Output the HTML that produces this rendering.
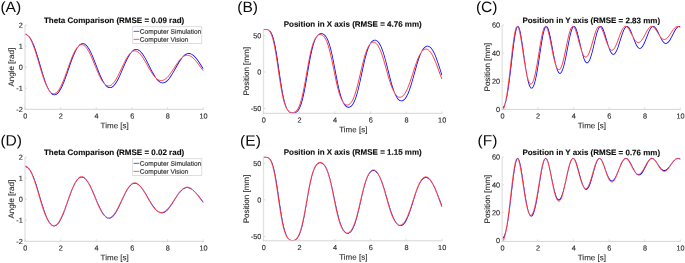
<!DOCTYPE html>
<html lang="en">
<head>
<meta charset="utf-8">
<title>Pendulum simulation vs computer vision comparison</title>
<style>
html,body{margin:0;padding:0;background:#ffffff;}
body{width:685px;height:263px;overflow:hidden;}
svg{display:block;}
text{text-rendering:geometricPrecision;}
</style>
</head>
<body>
<svg width="685" height="263" viewBox="0 0 685 263">
<rect x="0" y="0" width="685" height="263" fill="#ffffff"/>
<clipPath id="cA"><rect x="24.40" y="24.40" width="179.40" height="85.50"/></clipPath>
<g clip-path="url(#cA)">
<path d="M25.81,35.00 L26.21,35.11 L26.62,35.27 L27.03,35.48 L27.44,35.74 L27.86,36.06 L28.28,36.45 L28.57,36.75 L28.36,36.46 L27.92,35.94 L27.49,35.48 L27.06,35.08 L26.63,34.75 L26.21,34.50 L25.80,34.31 L25.39,34.19 L25.02,34.15 L24.98,34.91 L25.40,34.94Z M48.10,89.40 L48.71,90.50 L49.16,91.24 L49.63,91.93 L50.07,92.53 L50.53,93.08 L51.01,93.59 L51.46,94.00 L51.93,94.37 L52.44,94.69 L52.89,94.91 L53.38,95.08 L53.88,95.19 L54.43,95.23 L54.93,95.19 L55.37,95.10 L55.91,94.91 L56.39,94.68 L56.84,94.41 L57.34,94.04 L57.81,93.63 L58.25,93.18 L58.73,92.64 L59.18,92.07 L59.63,91.45 L60.09,90.76 L60.54,90.02 L60.99,89.24 L61.44,88.41 L61.89,87.53 L62.79,85.63 L63.24,84.62 L64.13,82.47 L65.02,80.19 L66.36,76.55 L67.70,72.74 L70.37,64.95 L71.71,61.19 L72.60,58.80 L73.04,57.64 L73.93,55.44 L74.37,54.39 L75.26,52.42 L75.70,51.50 L76.14,50.63 L76.58,49.81 L77.02,49.04 L77.46,48.32 L77.90,47.66 L78.34,47.05 L78.77,46.49 L79.20,45.99 L79.68,45.50 L79.50,45.61 L79.07,45.93 L78.64,46.30 L78.20,46.72 L77.77,47.20 L77.33,47.74 L76.89,48.33 L76.45,48.98 L76.01,49.68 L75.57,50.43 L75.13,51.23 L74.68,52.08 L73.80,53.91 L73.35,54.89 L72.46,56.96 L72.11,57.83 L71.40,59.70 L70.51,62.16 L69.62,64.69 L66.94,72.47 L65.61,76.28 L64.28,79.91 L63.39,82.18 L62.50,84.30 L62.06,85.30 L61.17,87.17 L60.73,88.04 L60.29,88.85 L59.85,89.62 L59.41,90.33 L58.97,90.99 L58.54,91.59 L58.11,92.14 L57.68,92.62 L57.25,93.05 L56.82,93.42 L56.41,93.74 L55.99,93.99 L55.59,94.18 L55.19,94.32 L54.79,94.40 L54.40,94.43 L54.01,94.40 L53.62,94.32 L53.22,94.18 L52.82,93.98 L52.57,93.82 L52.05,93.62 L51.58,93.37 L51.12,93.05 L50.67,92.69 L50.20,92.24 L49.75,91.74 L49.30,91.19 L48.84,90.56 L48.39,89.89Z M81.20,44.40 L81.71,44.18 L82.11,44.07 L82.50,44.01 L82.90,44.01 L83.29,44.05 L83.69,44.15 L84.09,44.30 L84.50,44.50 L84.92,44.75 L85.34,45.06 L85.76,45.43 L86.19,45.85 L86.62,46.33 L87.06,46.85 L87.49,47.43 L87.93,48.07 L88.37,48.75 L88.81,49.47 L89.25,50.25 L89.69,51.07 L90.57,52.83 L91.46,54.74 L92.35,56.79 L93.24,58.94 L94.13,61.18 L97.24,69.27 L98.58,72.66 L99.92,75.87 L100.37,76.89 L101.07,78.40 L101.85,79.77 L102.29,80.49 L102.73,81.17 L103.17,81.81 L103.61,82.39 L104.05,82.93 L104.49,83.43 L104.92,83.87 L105.41,84.31 L105.07,83.85 L104.63,83.22 L104.19,82.54 L103.75,81.82 L103.31,81.04 L102.43,79.37 L101.99,78.47 L101.10,76.56 L100.21,74.51 L98.88,71.25 L97.99,68.99 L94.87,60.89 L93.98,58.64 L93.09,56.48 L92.19,54.41 L91.29,52.48 L90.40,50.69 L89.95,49.87 L89.49,49.07 L89.05,48.33 L88.60,47.63 L88.14,46.96 L87.69,46.37 L87.23,45.81 L86.76,45.29 L86.31,44.85 L85.85,44.45 L85.35,44.08 L84.91,43.81 L84.43,43.57 L83.90,43.38 L83.45,43.27 L82.96,43.21 L82.41,43.22 L81.92,43.29 L81.47,43.41 L80.95,43.62 L80.47,43.88 L80.02,44.17 L79.53,44.56 L79.06,44.98 L78.62,45.44 L78.16,45.98 L77.95,46.24 L78.29,45.91 L78.75,45.51 L79.20,45.19 L79.66,44.90 L80.13,44.68 L80.60,44.51 L81.08,44.41Z M103.86,83.50 L104.42,84.31 L104.87,84.92 L105.34,85.49 L105.78,85.98 L106.25,86.44 L106.71,86.84 L107.21,87.21 L107.65,87.48 L108.13,87.73 L108.65,87.93 L109.15,88.05 L109.64,88.11 L110.13,88.12 L110.58,88.07 L111.07,87.96 L111.60,87.77 L112.08,87.54 L112.55,87.26 L113.00,86.94 L113.48,86.54 L113.94,86.11 L114.40,85.62 L114.86,85.09 L115.31,84.52 L115.77,83.89 L116.22,83.23 L116.66,82.53 L117.12,81.77 L117.57,80.99 L118.02,80.16 L118.91,78.42 L119.81,76.56 L121.15,73.61 L124.71,65.33 L126.05,62.33 L126.93,60.43 L127.38,59.52 L128.26,57.79 L129.15,56.20 L129.59,55.46 L130.03,54.76 L130.47,54.11 L130.90,53.49 L131.34,52.93 L131.78,52.40 L132.23,51.91 L132.06,52.01 L131.63,52.32 L131.20,52.67 L130.76,53.07 L130.33,53.52 L129.89,54.00 L129.45,54.53 L129.01,55.10 L128.57,55.71 L128.18,56.28 L128.00,56.59 L127.56,57.42 L126.66,59.16 L126.21,60.09 L125.32,62.00 L123.98,65.01 L120.42,73.28 L119.08,76.22 L118.20,78.07 L117.31,79.79 L116.87,80.60 L115.99,82.10 L115.55,82.79 L115.11,83.44 L114.67,84.04 L114.24,84.59 L113.80,85.09 L113.37,85.55 L112.94,85.95 L112.52,86.30 L112.10,86.60 L111.68,86.85 L111.27,87.04 L110.87,87.18 L110.47,87.28 L110.07,87.32 L109.67,87.31 L109.28,87.26 L108.88,87.16 L108.47,87.00 L108.06,86.80 L107.64,86.54 L107.22,86.22 L106.68,85.74 L106.40,85.61 L105.93,85.34 L105.47,85.02 L105.03,84.67 L104.56,84.24 L104.11,83.79Z M133.91,50.51 L134.33,50.28 L134.74,50.09 L135.15,49.95 L135.55,49.86 L135.96,49.81 L136.36,49.81 L136.76,49.85 L137.17,49.93 L137.57,50.06 L137.99,50.23 L138.40,50.44 L138.83,50.71 L139.25,51.01 L139.68,51.36 L140.11,51.76 L140.54,52.19 L140.97,52.67 L141.41,53.19 L141.85,53.74 L142.29,54.34 L143.17,55.63 L144.05,57.04 L144.49,57.79 L145.38,59.36 L146.27,61.01 L147.16,62.73 L150.27,68.92 L151.17,70.66 L152.06,72.35 L153.15,74.30 L153.95,75.39 L154.84,76.47 L155.28,76.96 L155.72,77.42 L156.16,77.85 L156.76,78.39 L156.30,77.78 L155.86,77.15 L154.98,75.81 L154.09,74.35 L153.21,72.79 L152.32,71.14 L151.43,69.43 L147.42,61.49 L146.08,58.98 L145.19,57.39 L144.29,55.89 L143.39,54.52 L142.94,53.87 L142.49,53.26 L142.03,52.68 L141.58,52.15 L141.13,51.65 L140.65,51.17 L140.21,50.77 L139.75,50.39 L139.26,50.03 L138.81,49.76 L138.34,49.51 L137.83,49.30 L137.38,49.16 L136.90,49.06 L136.37,49.01 L135.88,49.01 L135.44,49.07 L134.95,49.18 L134.43,49.35 L133.95,49.57 L133.51,49.82 L133.01,50.15 L132.55,50.52 L132.10,50.91 L131.62,51.38 L131.18,51.87 L130.77,52.36 L131.32,51.90 L131.77,51.58 L132.23,51.30 L132.71,51.05 L133.16,50.87 L133.55,50.75Z M155.29,77.73 L156.10,78.85 L156.55,79.42 L157.02,79.97 L157.46,80.46 L157.92,80.93 L158.39,81.37 L158.84,81.74 L159.30,82.08 L159.79,82.40 L160.24,82.65 L160.71,82.87 L161.19,83.04 L161.70,83.18 L162.15,83.26 L162.63,83.29 L163.12,83.28 L163.64,83.21 L164.12,83.10 L164.60,82.95 L165.04,82.76 L165.54,82.51 L166.01,82.22 L166.47,81.90 L166.93,81.54 L167.39,81.13 L167.85,80.70 L168.30,80.22 L168.75,79.72 L169.21,79.17 L169.66,78.60 L170.11,78.00 L171.01,76.71 L171.91,75.32 L173.25,73.10 L174.59,70.76 L177.71,65.18 L178.60,63.65 L179.48,62.18 L180.37,60.80 L180.81,60.14 L181.69,58.90 L182.57,57.78 L183.01,57.27 L183.51,56.72 L182.87,57.18 L182.43,57.53 L181.99,57.92 L181.55,58.33 L180.67,59.25 L180.23,59.75 L179.62,60.49 L178.80,61.76 L177.46,64.01 L176.57,65.57 L173.00,71.93 L171.67,74.18 L170.79,75.60 L169.91,76.91 L169.46,77.53 L168.59,78.67 L168.15,79.19 L167.71,79.68 L167.28,80.14 L166.84,80.55 L166.41,80.93 L165.99,81.26 L165.56,81.56 L165.14,81.81 L164.72,82.03 L164.30,82.20 L163.89,82.34 L163.48,82.43 L163.07,82.48 L162.67,82.49 L162.26,82.46 L161.85,82.40 L161.44,82.29 L161.03,82.14 L160.61,81.94 L160.19,81.71 L159.77,81.44 L159.34,81.12 L158.91,80.76 L158.48,80.36 L158.08,79.95 L157.61,79.67 L157.16,79.36 L156.70,79.02 L156.25,78.64 L155.80,78.24Z M184.98,55.37 L185.60,54.92 L186.02,54.66 L186.45,54.44 L186.87,54.25 L187.28,54.10 L187.70,53.99 L188.11,53.92 L188.52,53.88 L188.93,53.87 L189.34,53.90 L189.75,53.97 L190.17,54.08 L190.59,54.21 L191.01,54.39 L191.43,54.60 L191.85,54.84 L192.28,55.12 L192.71,55.43 L193.14,55.78 L193.58,56.16 L194.01,56.57 L194.45,57.00 L195.32,57.97 L195.76,58.49 L196.65,59.60 L197.53,60.80 L198.86,62.72 L200.19,64.75 L202.86,68.91 L203.54,68.48 L200.86,64.31 L199.52,62.27 L198.18,60.33 L197.28,59.11 L196.38,57.98 L195.93,57.45 L195.02,56.44 L194.57,56.00 L194.12,55.57 L193.66,55.17 L193.20,54.80 L192.74,54.47 L192.28,54.17 L191.82,53.90 L191.32,53.65 L190.88,53.47 L190.41,53.31 L189.93,53.19 L189.42,53.11 L188.98,53.07 L188.50,53.08 L187.98,53.13 L187.50,53.21 L187.03,53.34 L186.55,53.51 L186.11,53.71 L185.62,53.97 L185.15,54.26 L184.70,54.57 L184.23,54.95 L183.77,55.35 L183.32,55.77 L182.86,56.24 L182.41,56.73 L182.00,57.22 L182.55,56.76 L183.00,56.43 L183.45,56.13 L183.91,55.86 L184.37,55.63Z M50.27,91.46 L49.84,90.81 L49.40,90.10 L48.96,89.32 L48.52,88.49 L48.08,87.59 L47.64,86.63 L47.20,85.61 L46.76,84.54 L46.31,83.41 L45.42,81.00 L44.98,79.72 L44.09,77.03 L42.76,72.74 L41.87,69.76 L38.75,59.07 L37.41,54.67 L36.52,51.87 L35.62,49.23 L34.73,46.76 L34.28,45.59 L33.38,43.41 L32.94,42.41 L32.49,41.45 L32.04,40.55 L31.59,39.70 L31.13,38.91 L30.69,38.19 L30.23,37.52 L29.77,36.91 L29.32,36.37 L28.85,35.88 L28.39,35.46 L27.92,35.10 L27.68,34.95 L27.86,35.11 L28.32,35.60 L28.77,36.15 L29.22,36.74 L29.68,37.42 L30.13,38.14 L30.57,38.91 L31.02,39.75 L31.47,40.65 L31.92,41.59 L32.37,42.59 L33.26,44.75 L33.71,45.91 L34.60,48.35 L35.05,49.64 L35.94,52.34 L36.83,55.16 L37.72,58.09 L40.84,68.66 L42.18,73.05 L43.07,75.85 L43.51,77.20 L44.40,79.77 L44.85,81.00 L45.73,83.29 L46.18,84.37 L46.62,85.38 L47.06,86.34 L47.51,87.25 L47.95,88.09 L48.39,88.88 L48.83,89.60 L49.27,90.26 L49.71,90.87 L50.15,91.40 L50.61,91.90Z" fill="#0000ff" fill-rule="evenodd" stroke="none"/>
<path d="M25.00,33.88 L25.45,33.94 L25.89,34.06 L26.34,34.27 L26.78,34.54 L27.23,34.88 L27.67,35.29 L28.12,35.77 L28.56,36.30 L29.01,36.90 L29.45,37.55 L29.90,38.27 L30.35,39.04 L30.79,39.87 L31.24,40.76 L31.68,41.70 L32.13,42.70 L32.57,43.75 L33.02,44.85 L33.46,46.00 L33.91,47.20 L34.36,48.44 L34.80,49.73 L35.25,51.05 L35.69,52.42 L36.14,53.81 L36.58,55.24 L37.03,56.70 L37.47,58.17 L37.92,59.66 L38.37,61.17 L38.81,62.68 L39.26,64.20 L39.70,65.72 L40.15,67.23 L40.59,68.73 L41.04,70.22 L41.48,71.68 L41.93,73.13 L42.37,74.54 L42.82,75.93 L43.27,77.28 L43.71,78.59 L44.16,79.86 L44.60,81.09 L45.05,82.26 L45.49,83.39 L45.94,84.47 L46.38,85.49 L46.83,86.46 L47.27,87.37 L47.72,88.22 L48.17,89.01 L48.61,89.74 L49.06,90.41 L49.50,91.02 L49.95,91.57 L50.39,92.06 L50.84,92.49 L51.28,92.85 L51.73,93.15 L52.18,93.39 L52.62,93.57 L53.07,93.68 L53.51,93.74 L53.96,93.73 L54.40,93.67 L54.85,93.54 L55.29,93.36 L55.74,93.12 L56.19,92.82 L56.63,92.46 L57.08,92.04 L57.52,91.57 L57.97,91.05 L58.41,90.47 L58.86,89.84 L59.30,89.16 L59.75,88.42 L60.19,87.64 L60.64,86.81 L61.09,85.93 L61.53,85.01 L61.98,84.05 L62.42,83.04 L62.87,82.00 L63.31,80.92 L63.76,79.81 L64.20,78.67 L64.65,77.50 L65.09,76.31 L65.54,75.10 L65.99,73.87 L66.43,72.63 L66.88,71.37 L67.32,70.12 L67.77,68.85 L68.21,67.59 L68.66,66.33 L69.10,65.08 L69.55,63.85 L70.00,62.62 L70.44,61.42 L70.89,60.24 L71.33,59.09 L71.78,57.96 L72.22,56.87 L72.67,55.81 L73.11,54.78 L73.56,53.80 L74.00,52.86 L74.45,51.96 L74.90,51.11 L75.34,50.30 L75.79,49.54 L76.23,48.84 L76.68,48.18 L77.12,47.58 L77.57,47.03 L78.01,46.54 L78.46,46.10 L78.91,45.72 L79.35,45.40 L79.80,45.13 L80.24,44.92 L80.69,44.76 L81.13,44.66 L81.58,44.62 L82.02,44.64 L82.47,44.71 L82.91,44.84 L83.36,45.03 L83.81,45.27 L84.25,45.57 L84.70,45.92 L85.14,46.32 L85.59,46.78 L86.03,47.29 L86.48,47.84 L86.92,48.45 L87.37,49.10 L87.82,49.80 L88.26,50.54 L88.71,51.32 L89.15,52.15 L89.60,53.01 L90.04,53.90 L90.49,54.83 L90.93,55.79 L91.38,56.78 L91.83,57.79 L92.27,58.82 L92.72,59.88 L93.16,60.94 L93.61,62.02 L94.05,63.11 L94.50,64.21 L94.94,65.31 L95.39,66.40 L95.83,67.49 L96.28,68.58 L96.73,69.65 L97.17,70.71 L97.62,71.75 L98.06,72.78 L98.51,73.78 L98.95,74.75 L99.40,75.69 L99.84,76.61 L100.29,77.49 L100.73,78.33 L101.18,79.14 L101.63,79.91 L102.07,80.63 L102.52,81.32 L102.96,81.96 L103.41,82.55 L103.85,83.10 L104.30,83.60 L104.74,84.06 L105.19,84.46 L105.64,84.82 L106.08,85.13 L106.53,85.38 L106.97,85.59 L107.42,85.74 L107.86,85.85 L108.31,85.90 L108.75,85.91 L109.20,85.86 L109.64,85.77 L110.09,85.63 L110.54,85.44 L110.98,85.20 L111.43,84.91 L111.87,84.57 L112.32,84.19 L112.76,83.76 L113.21,83.29 L113.65,82.78 L114.10,82.22 L114.55,81.63 L114.99,80.99 L115.44,80.32 L115.88,79.61 L116.33,78.87 L116.77,78.09 L117.22,77.29 L117.66,76.46 L118.11,75.60 L118.56,74.73 L119.00,73.83 L119.45,72.91 L119.89,71.99 L120.34,71.05 L120.78,70.10 L121.23,69.15 L121.67,68.19 L122.12,67.24 L122.56,66.29 L123.01,65.35 L123.46,64.41 L123.90,63.49 L124.35,62.59 L124.79,61.70 L125.24,60.84 L125.68,60.00 L126.13,59.18 L126.57,58.39 L127.02,57.63 L127.47,56.91 L127.91,56.22 L128.36,55.56 L128.80,54.95 L129.25,54.37 L129.69,53.83 L130.14,53.34 L130.58,52.89 L131.03,52.48 L131.47,52.11 L131.92,51.79 L132.37,51.52 L132.81,51.29 L133.26,51.11 L133.70,50.98 L134.15,50.89 L134.59,50.85 L135.04,50.85 L135.48,50.90 L135.93,51.00 L136.38,51.14 L136.82,51.33 L137.27,51.56 L137.71,51.83 L138.16,52.15 L138.60,52.50 L139.05,52.89 L139.49,53.33 L139.94,53.79 L140.38,54.30 L140.83,54.83 L141.28,55.40 L141.72,56.00 L142.17,56.63 L142.61,57.28 L143.06,57.96 L143.50,58.65 L143.95,59.37 L144.39,60.11 L144.84,60.86 L145.28,61.62 L145.73,62.39 L146.18,63.18 L146.62,63.96 L147.07,64.76 L147.51,65.55 L147.96,66.34 L148.40,67.13 L148.85,67.91 L149.29,68.69 L149.74,69.45 L150.19,70.20 L150.63,70.94 L151.08,71.66 L151.52,72.37 L151.97,73.05 L152.41,73.71 L152.86,74.35 L153.30,74.96 L153.75,75.55 L154.19,76.11 L154.64,76.64 L155.09,77.14 L155.53,77.61 L155.98,78.04 L156.42,78.45 L156.87,78.82 L157.31,79.15 L157.76,79.46 L158.20,79.72 L158.65,79.95 L159.10,80.14 L159.54,80.30 L159.99,80.42 L160.43,80.51 L160.88,80.55 L161.32,80.57 L161.77,80.54 L162.21,80.48 L162.66,80.38 L163.10,80.25 L163.55,80.08 L164.00,79.87 L164.44,79.63 L164.89,79.36 L165.33,79.05 L165.78,78.71 L166.22,78.34 L166.67,77.94 L167.11,77.50 L167.56,77.04 L168.01,76.56 L168.45,76.04 L168.90,75.51 L169.34,74.95 L169.79,74.37 L170.23,73.76 L170.68,73.15 L171.12,72.51 L171.57,71.86 L172.02,71.20 L172.46,70.53 L172.91,69.85 L173.35,69.16 L173.80,68.47 L174.24,67.78 L174.69,67.09 L175.13,66.40 L175.58,65.72 L176.02,65.04 L176.47,64.37 L176.92,63.72 L177.36,63.07 L177.81,62.44 L178.25,61.83 L178.70,61.23 L179.14,60.66 L179.59,60.11 L180.03,59.58 L180.48,59.07 L180.93,58.59 L181.37,58.14 L181.82,57.72 L182.26,57.33 L182.71,56.97 L183.15,56.64 L183.60,56.35 L184.04,56.09 L184.49,55.86 L184.93,55.66 L185.38,55.51 L185.83,55.38 L186.27,55.29 L186.72,55.24 L187.16,55.22 L187.61,55.24 L188.05,55.29 L188.50,55.38 L188.94,55.49 L189.39,55.64 L189.84,55.83 L190.28,56.04 L190.73,56.29 L191.17,56.56 L191.62,56.86 L192.06,57.19 L192.51,57.55 L192.95,57.94 L193.40,58.35 L193.84,58.78 L194.29,59.23 L194.74,59.71 L195.18,60.20 L195.63,60.72 L196.07,61.25 L196.52,61.79 L196.96,62.35 L197.41,62.92 L197.85,63.50 L198.30,64.09 L198.75,64.69 L199.19,65.29 L199.64,65.89 L200.08,66.50 L200.53,67.10 L200.97,67.71 L201.42,68.31 L201.86,68.90 L202.31,69.48 L202.75,70.06 L203.20,70.62" fill="none" stroke="#ff0000" stroke-width="0.8" stroke-linejoin="round"/>
</g>
<path d="M25.00,25.10 V109.80" fill="none" stroke="#e2e2e2" stroke-width="1.3"/>
<path d="M24.50,109.30 H203.60" fill="none" stroke="#d5d5d5" stroke-width="1"/>
<path d="M25.00,109.30 v-2 M60.64,109.30 v-2 M96.28,109.30 v-2 M131.92,109.30 v-2 M167.56,109.30 v-2 M203.20,109.30 v-2 M25.00,25.10 h2 M25.00,46.15 h2 M25.00,67.20 h2 M25.00,88.25 h2 M25.00,109.30 h2" fill="none" stroke="#d5d5d5" stroke-width="0.8"/>
<g font-family="Liberation Sans, Arial, Helvetica, sans-serif" font-size="7.3" fill="#2a2a2a" stroke="#2a2a2a" stroke-width="0.12">
<text transform="matrix(1 0.001 0 1 25.25 118.40)" text-anchor="middle">0</text>
<text transform="matrix(1 0.001 0 1 60.89 118.40)" text-anchor="middle">2</text>
<text transform="matrix(1 0.001 0 1 96.53 118.40)" text-anchor="middle">4</text>
<text transform="matrix(1 0.001 0 1 132.17 118.40)" text-anchor="middle">6</text>
<text transform="matrix(1 0.001 0 1 167.81 118.40)" text-anchor="middle">8</text>
<text transform="matrix(1 0.001 0 1 203.45 118.40)" text-anchor="middle">10</text>
<text transform="matrix(1 0.001 0 1 22.80 27.70)" text-anchor="end">2</text>
<text transform="matrix(1 0.001 0 1 22.80 48.75)" text-anchor="end">1</text>
<text transform="matrix(1 0.001 0 1 22.80 69.80)" text-anchor="end">0</text>
<text transform="matrix(1 0.001 0 1 22.80 90.85)" text-anchor="end">-1</text>
<text transform="matrix(1 0.001 0 1 22.80 111.90)" text-anchor="end">-2</text>
</g>
<text font-family="Liberation Sans, Arial, Helvetica, sans-serif" font-size="8" fill="#2a2a2a" stroke="#2a2a2a" stroke-width="0.1" transform="matrix(1 0.001 0 1 114.70 128.20)" text-anchor="middle">Time [s]</text>
<text font-family="Liberation Sans, Arial, Helvetica, sans-serif" font-size="8" fill="#2a2a2a" stroke="#2a2a2a" stroke-width="0.1" text-anchor="middle" transform="translate(13.90,67.20) rotate(-90)">Angle [rad]</text>
<text font-family="Liberation Sans, Arial, Helvetica, sans-serif" font-size="8" font-weight="bold" fill="#0c0c0c" stroke="#0c0c0c" stroke-width="0.12" transform="matrix(1 0.001 0 1 114.10 23.00)" text-anchor="middle">Theta Comparison (RMSE = 0.09 rad)</text>
<text font-family="Liberation Sans, Arial, Helvetica, sans-serif" font-size="15" fill="#0c0c0c" transform="matrix(1.04 0.001 0 1 0.40 12.10)">(A)</text>
<rect x="132.7" y="26.70" width="69.10" height="16.70" fill="#ffffff" stroke="#d6d6d6" stroke-width="0.8"/>
<path d="M133.6,31.35 h5.8" stroke="#0000ff" stroke-width="0.65"/>
<path d="M133.6,39.35 h5.8" stroke="#ff0000" stroke-width="0.65"/>
<text font-family="Liberation Sans, Arial, Helvetica, sans-serif" font-size="6.6" fill="#2a2a2a" stroke="#2a2a2a" stroke-width="0.14" transform="matrix(1 0.001 0 1 139.80 33.75)">Computer Simulation</text>
<text font-family="Liberation Sans, Arial, Helvetica, sans-serif" font-size="6.6" fill="#2a2a2a" stroke="#2a2a2a" stroke-width="0.14" transform="matrix(1 0.001 0 1 139.80 41.75)">Computer Vision</text>
<clipPath id="cB"><rect x="262.90" y="28.70" width="179.60" height="85.20"/></clipPath>
<g clip-path="url(#cB)">
<path d="M264.39,29.81 L265.71,29.85 L266.57,29.92 L266.99,29.99 L267.41,30.08 L267.82,30.21 L268.03,30.30 L267.84,30.19 L267.42,30.01 L267.00,29.88 L266.58,29.78 L266.15,29.72 L265.28,29.67 L263.50,29.66 L263.50,29.40 L263.50,29.81Z M286.78,109.36 L287.25,110.15 L287.70,110.80 L288.17,111.38 L288.66,111.89 L289.13,112.30 L289.61,112.64 L290.06,112.90 L290.54,113.13 L291.02,113.30 L291.52,113.44 L292.00,113.53 L292.45,113.58 L292.92,113.60 L293.42,113.58 L293.90,113.53 L294.38,113.44 L294.85,113.31 L295.33,113.14 L295.81,112.93 L296.28,112.66 L296.76,112.34 L297.23,111.95 L297.67,111.53 L298.14,111.00 L298.61,110.39 L299.08,109.68 L299.54,108.89 L299.98,108.01 L300.44,106.99 L300.89,105.87 L301.34,104.64 L301.79,103.27 L302.24,101.78 L302.69,100.15 L303.14,98.40 L303.58,96.52 L304.03,94.51 L304.48,92.39 L305.37,87.82 L306.26,82.90 L308.94,67.27 L309.83,62.23 L310.28,59.82 L311.17,55.26 L311.61,53.14 L312.06,51.13 L312.50,49.25 L312.95,47.49 L313.39,45.85 L313.83,44.35 L314.28,42.97 L314.72,41.71 L315.16,40.57 L315.60,39.55 L316.04,38.63 L316.48,37.82 L316.91,37.11 L317.34,36.49 L317.77,35.95 L318.24,35.46 L318.06,35.57 L317.63,35.89 L317.20,36.29 L316.77,36.76 L316.34,37.31 L315.90,37.94 L315.46,38.67 L315.02,39.49 L314.58,40.42 L314.14,41.46 L313.70,42.60 L313.25,43.86 L312.81,45.24 L312.36,46.75 L311.92,48.37 L311.49,50.04 L310.83,52.97 L310.38,55.10 L309.49,59.67 L309.04,62.09 L308.15,67.13 L305.48,82.76 L304.58,87.67 L303.69,92.22 L303.25,94.34 L302.80,96.34 L302.36,98.21 L301.92,99.95 L301.47,101.56 L301.03,103.04 L300.59,104.38 L300.14,105.60 L299.70,106.69 L299.27,107.66 L298.83,108.51 L298.39,109.27 L297.96,109.92 L297.53,110.48 L297.11,110.96 L296.68,111.37 L296.27,111.71 L295.85,111.99 L295.43,112.22 L295.02,112.41 L294.60,112.55 L294.19,112.66 L293.77,112.74 L293.35,112.78 L292.93,112.80 L292.49,112.84 L292.02,112.84 L291.56,112.80 L291.09,112.72 L290.62,112.60 L290.15,112.44 L289.68,112.22 L289.22,111.95 L288.75,111.61 L288.31,111.23 L287.83,110.74 L287.38,110.19 L286.93,109.55 L286.63,109.07Z M319.85,34.34 L320.26,34.20 L320.66,34.10 L321.06,34.05 L321.46,34.04 L321.86,34.08 L322.27,34.17 L322.67,34.30 L323.08,34.49 L323.49,34.72 L323.91,35.02 L324.33,35.38 L324.75,35.81 L325.18,36.31 L325.61,36.89 L326.04,37.56 L326.48,38.31 L326.92,39.16 L327.36,40.11 L327.80,41.16 L328.24,42.32 L328.68,43.59 L329.13,44.97 L329.57,46.47 L330.01,48.07 L330.46,49.78 L330.90,51.60 L331.35,53.51 L332.24,57.61 L333.13,62.01 L334.02,66.61 L335.81,75.98 L336.70,80.53 L337.14,82.72 L338.04,86.89 L338.48,88.85 L338.93,90.72 L339.38,92.48 L340.05,94.92 L340.46,96.10 L340.90,97.29 L341.34,98.38 L341.79,99.38 L342.23,100.28 L342.67,101.09 L343.11,101.81 L343.54,102.44 L343.99,103.00 L343.69,102.45 L343.25,101.55 L342.81,100.55 L342.37,99.44 L341.93,98.23 L341.48,96.90 L341.04,95.47 L340.60,93.93 L340.15,92.28 L339.71,90.53 L339.26,88.67 L338.82,86.72 L338.37,84.68 L337.48,80.37 L336.59,75.83 L334.81,66.46 L333.91,61.85 L333.02,57.45 L332.57,55.35 L332.13,53.34 L331.68,51.41 L331.23,49.59 L330.79,47.86 L330.34,46.25 L329.89,44.74 L329.44,43.34 L328.99,42.06 L328.54,40.86 L328.09,39.80 L327.64,38.82 L327.18,37.92 L326.73,37.15 L326.28,36.44 L325.80,35.80 L325.35,35.28 L324.89,34.81 L324.39,34.38 L323.91,34.04 L323.43,33.76 L322.98,33.56 L322.50,33.40 L322.01,33.29 L321.52,33.24 L321.03,33.25 L320.54,33.31 L320.01,33.44 L319.52,33.61 L319.04,33.85 L318.56,34.15 L318.12,34.49 L317.64,34.92 L317.17,35.42 L316.71,36.00 L316.53,36.25 L316.84,35.91 L317.31,35.49 L317.75,35.15 L318.22,34.86 L318.69,34.63 L319.17,34.47 L319.64,34.36Z M342.47,101.76 L342.98,102.83 L343.43,103.65 L343.88,104.39 L344.36,105.08 L344.81,105.64 L345.27,106.14 L345.77,106.59 L346.22,106.92 L346.70,107.21 L347.19,107.43 L347.68,107.57 L348.23,107.66 L348.74,107.66 L349.23,107.60 L349.73,107.46 L350.17,107.28 L350.70,106.99 L351.18,106.65 L351.62,106.27 L352.09,105.79 L352.56,105.24 L353.04,104.59 L353.49,103.88 L353.94,103.10 L354.40,102.21 L354.85,101.24 L355.30,100.18 L355.75,99.02 L356.20,97.77 L356.65,96.43 L357.10,94.99 L357.55,93.45 L357.99,91.83 L358.44,90.12 L359.33,86.48 L360.23,82.56 L361.12,78.46 L363.35,67.98 L364.24,63.94 L365.13,60.11 L365.58,58.30 L366.02,56.57 L366.47,54.92 L366.91,53.36 L367.35,51.89 L367.80,50.52 L368.24,49.24 L368.68,48.05 L369.12,46.97 L369.56,45.97 L370.00,45.07 L370.44,44.26 L370.82,43.63 L370.29,44.19 L369.86,44.73 L369.42,45.36 L368.98,46.06 L368.54,46.85 L368.10,47.73 L367.66,48.69 L367.27,49.60 L367.04,50.27 L366.59,51.65 L366.14,53.14 L365.69,54.71 L365.25,56.37 L364.80,58.11 L363.91,61.82 L363.46,63.76 L362.57,67.81 L360.34,78.29 L359.45,82.39 L358.55,86.29 L357.66,89.93 L357.22,91.63 L356.78,93.24 L356.33,94.76 L355.89,96.19 L355.44,97.52 L355.00,98.75 L354.56,99.88 L354.12,100.92 L353.68,101.86 L353.24,102.71 L352.80,103.47 L352.37,104.15 L351.94,104.73 L351.51,105.24 L351.09,105.67 L350.67,106.03 L350.26,106.32 L349.85,106.55 L349.45,106.71 L349.06,106.82 L348.66,106.86 L348.27,106.86 L347.88,106.80 L347.49,106.68 L347.08,106.51 L346.68,106.27 L346.26,105.96 L345.85,105.58 L345.42,105.12 L345.05,104.66 L344.51,104.26 L344.03,103.82 L343.58,103.32 L343.13,102.75 L342.67,102.09Z M372.16,41.87 L372.58,41.48 L373.00,41.16 L373.41,40.91 L373.81,40.72 L374.20,40.60 L374.59,40.54 L374.98,40.53 L375.37,40.58 L375.76,40.69 L376.16,40.86 L376.57,41.09 L376.98,41.39 L377.40,41.75 L377.83,42.19 L378.25,42.70 L378.69,43.28 L379.12,43.93 L379.56,44.67 L380.00,45.48 L380.44,46.37 L380.88,47.34 L381.32,48.38 L381.76,49.51 L382.21,50.71 L382.65,51.99 L383.09,53.34 L383.54,54.76 L384.43,57.80 L385.32,61.06 L386.21,64.50 L388.88,75.22 L389.78,78.72 L390.67,82.06 L391.12,83.66 L392.01,86.70 L392.20,87.29 L392.63,88.36 L393.08,89.40 L393.52,90.36 L393.96,91.26 L394.41,92.10 L394.85,92.86 L395.38,93.70 L394.99,92.79 L394.55,91.67 L394.11,90.48 L393.66,89.21 L393.22,87.87 L392.78,86.46 L391.89,83.45 L391.00,80.21 L390.11,76.79 L387.43,66.07 L386.54,62.56 L385.64,59.19 L384.75,56.02 L383.85,53.09 L383.41,51.74 L382.96,50.44 L382.51,49.23 L382.06,48.09 L381.61,47.01 L381.16,46.02 L380.71,45.12 L380.26,44.28 L379.80,43.52 L379.35,42.83 L378.87,42.19 L378.43,41.66 L377.96,41.18 L377.49,40.77 L377.02,40.43 L376.49,40.13 L376.05,39.94 L375.55,39.80 L374.99,39.73 L374.49,39.74 L374.04,39.81 L373.49,39.98 L373.01,40.21 L372.52,40.51 L372.05,40.88 L371.60,41.30 L371.12,41.85 L370.66,42.44 L370.21,43.10 L369.75,43.85 L369.46,44.40 L369.90,43.84 L370.36,43.34 L370.81,42.93 L371.28,42.58 L371.81,42.27Z M394.25,93.08 L394.71,94.15 L395.15,95.12 L395.60,96.03 L396.07,96.87 L396.51,97.61 L396.97,98.30 L397.43,98.91 L397.89,99.45 L398.38,99.94 L398.82,100.32 L399.30,100.66 L399.83,100.94 L400.27,101.12 L400.77,101.25 L401.33,101.30 L401.83,101.28 L402.28,101.19 L402.83,101.01 L403.31,100.77 L403.79,100.47 L404.26,100.10 L404.71,99.68 L405.19,99.16 L405.65,98.59 L406.11,97.95 L406.57,97.24 L407.02,96.46 L407.47,95.61 L407.92,94.69 L408.37,93.71 L408.82,92.65 L409.27,91.53 L409.72,90.34 L410.17,89.08 L411.06,86.40 L411.51,84.98 L412.40,82.01 L413.74,77.29 L416.42,67.63 L417.31,64.56 L418.20,61.66 L419.09,58.95 L419.53,57.68 L419.97,56.48 L420.42,55.34 L420.86,54.27 L421.30,53.27 L421.74,52.34 L422.14,51.56 L421.59,52.26 L421.16,52.90 L420.71,53.60 L420.27,54.36 L419.83,55.19 L419.39,56.07 L418.94,57.02 L418.78,57.41 L417.88,60.03 L417.43,61.42 L416.54,64.34 L415.20,69.00 L412.97,77.07 L412.08,80.24 L411.19,83.29 L410.74,84.75 L409.85,87.52 L408.97,90.06 L408.52,91.24 L408.08,92.35 L407.64,93.39 L407.20,94.36 L406.76,95.25 L406.32,96.08 L405.88,96.83 L405.44,97.50 L405.01,98.11 L404.58,98.64 L404.15,99.11 L403.73,99.50 L403.31,99.83 L402.90,100.09 L402.50,100.28 L402.10,100.41 L401.71,100.49 L401.33,100.50 L400.94,100.46 L400.54,100.37 L400.15,100.21 L399.74,99.99 L399.33,99.70 L398.91,99.34 L398.49,98.92 L398.06,98.42 L397.63,97.84 L397.19,97.19 L396.76,96.47 L396.37,95.76 L396.21,95.60 L395.77,95.09 L395.30,94.49 L394.85,93.84 L394.40,93.13 L393.98,92.40Z M423.49,49.33 L423.93,48.75 L424.36,48.25 L424.78,47.81 L425.20,47.45 L425.62,47.14 L426.03,46.91 L426.43,46.73 L426.82,46.61 L427.22,46.55 L427.61,46.55 L428.00,46.60 L428.39,46.70 L428.80,46.86 L429.20,47.08 L429.62,47.37 L430.04,47.71 L430.46,48.11 L430.89,48.58 L431.33,49.11 L431.76,49.71 L432.20,50.36 L432.63,51.08 L433.07,51.86 L433.52,52.70 L433.96,53.60 L434.40,54.56 L434.84,55.58 L435.73,57.77 L436.62,60.15 L437.06,61.40 L437.95,64.01 L439.29,68.13 L441.52,75.15 L442.28,74.90 L440.05,67.89 L438.71,63.76 L437.82,61.14 L437.37,59.88 L436.47,57.47 L435.58,55.27 L435.13,54.24 L434.68,53.27 L434.23,52.34 L433.78,51.49 L433.33,50.68 L432.88,49.94 L432.42,49.26 L431.96,48.63 L431.51,48.07 L431.04,47.56 L430.56,47.10 L430.11,46.73 L429.64,46.41 L429.12,46.13 L428.67,45.95 L428.18,45.82 L427.62,45.75 L427.12,45.76 L426.68,45.83 L426.18,45.97 L425.64,46.20 L425.16,46.49 L424.72,46.81 L424.22,47.24 L423.76,47.72 L423.31,48.25 L422.84,48.87 L422.38,49.55 L421.93,50.28 L421.47,51.11 L421.03,51.98 L420.75,52.58 L421.18,51.95 L421.63,51.35 L422.08,50.83 L422.54,50.36 L422.99,49.95 L423.16,49.82Z M288.78,110.86 L288.35,110.33 L287.92,109.71 L287.49,108.98 L287.05,108.13 L286.61,107.15 L286.18,106.04 L285.73,104.77 L285.29,103.35 L284.85,101.77 L284.40,100.02 L283.96,98.10 L283.52,96.01 L283.07,93.76 L282.63,91.35 L282.18,88.78 L281.29,83.26 L280.40,77.33 L278.61,64.99 L277.72,58.98 L276.83,53.35 L276.38,50.72 L275.94,48.24 L275.49,45.91 L275.04,43.76 L274.59,41.78 L274.14,39.97 L273.70,38.34 L273.25,36.88 L272.80,35.58 L272.35,34.44 L271.89,33.45 L271.44,32.59 L270.97,31.85 L270.51,31.23 L270.04,30.71 L269.56,30.29 L269.08,29.95 L268.56,29.66 L268.08,29.46 L267.63,29.32 L267.16,29.21 L266.66,29.13 L265.75,29.05 L264.84,29.02 L263.50,29.01 L263.50,29.14 L264.84,29.14 L265.74,29.17 L266.20,29.21 L266.66,29.27 L267.12,29.37 L267.62,29.53 L268.09,29.74 L268.56,30.01 L269.03,30.36 L269.50,30.80 L269.96,31.34 L270.41,31.99 L270.87,32.76 L271.32,33.66 L271.77,34.71 L272.22,35.91 L272.67,37.27 L273.12,38.80 L273.56,40.50 L274.01,42.38 L274.46,44.43 L274.90,46.65 L275.35,49.04 L275.80,51.57 L276.24,54.24 L277.14,59.92 L279.81,78.05 L280.70,83.80 L281.15,86.53 L281.60,89.13 L282.04,91.59 L282.49,93.90 L282.93,96.06 L283.38,98.06 L283.82,99.89 L284.27,101.57 L284.71,103.09 L285.15,104.45 L285.60,105.67 L286.04,106.75 L286.48,107.71 L286.92,108.54 L287.36,109.25 L287.79,109.87 L288.22,110.40 L288.65,110.84 L289.18,111.28Z" fill="#0000ff" fill-rule="evenodd" stroke="none"/>
<path d="M263.50,29.40 L263.95,29.40 L264.39,29.40 L264.84,29.40 L265.28,29.41 L265.73,29.43 L266.18,29.46 L266.62,29.53 L267.07,29.63 L267.51,29.77 L267.96,29.96 L268.41,30.22 L268.85,30.55 L269.30,30.97 L269.74,31.49 L270.19,32.12 L270.64,32.88 L271.08,33.76 L271.53,34.80 L271.97,35.99 L272.42,37.34 L272.87,38.87 L273.31,40.56 L273.76,42.44 L274.20,44.48 L274.65,46.70 L275.10,49.08 L275.54,51.62 L275.99,54.28 L276.43,57.07 L276.88,59.96 L277.33,62.93 L277.77,65.95 L278.22,69.01 L278.66,72.06 L279.11,75.10 L279.56,78.09 L280.00,81.01 L280.45,83.85 L280.89,86.57 L281.34,89.17 L281.79,91.64 L282.23,93.95 L282.68,96.11 L283.12,98.12 L283.57,99.96 L284.02,101.64 L284.46,103.17 L284.91,104.54 L285.35,105.77 L285.80,106.86 L286.25,107.82 L286.69,108.66 L287.14,109.40 L287.58,110.03 L288.03,110.57 L288.48,111.03 L288.92,111.42 L289.37,111.73 L289.81,111.99 L290.26,112.20 L290.71,112.36 L291.15,112.47 L291.60,112.55 L292.04,112.58 L292.49,112.58 L292.94,112.54 L293.38,112.46 L293.83,112.34 L294.27,112.18 L294.72,111.97 L295.17,111.71 L295.61,111.40 L296.06,111.03 L296.50,110.59 L296.95,110.08 L297.40,109.49 L297.84,108.81 L298.29,108.04 L298.73,107.17 L299.18,106.20 L299.63,105.11 L300.07,103.90 L300.52,102.58 L300.96,101.13 L301.41,99.55 L301.86,97.85 L302.30,96.03 L302.75,94.09 L303.19,92.04 L303.64,89.88 L304.09,87.62 L304.53,85.28 L304.98,82.87 L305.42,80.40 L305.87,77.89 L306.32,75.35 L306.76,72.80 L307.21,70.25 L307.65,67.73 L308.10,65.25 L308.55,62.82 L308.99,60.46 L309.44,58.18 L309.88,55.99 L310.33,53.90 L310.78,51.92 L311.22,50.05 L311.67,48.30 L312.11,46.68 L312.56,45.17 L313.01,43.78 L313.45,42.51 L313.90,41.36 L314.34,40.31 L314.79,39.38 L315.24,38.54 L315.68,37.80 L316.13,37.15 L316.57,36.59 L317.02,36.10 L317.47,35.69 L317.91,35.35 L318.36,35.08 L318.80,34.87 L319.25,34.71 L319.70,34.62 L320.14,34.58 L320.59,34.60 L321.03,34.67 L321.48,34.80 L321.93,34.98 L322.37,35.23 L322.82,35.53 L323.26,35.90 L323.71,36.35 L324.16,36.86 L324.60,37.45 L325.05,38.12 L325.49,38.88 L325.94,39.72 L326.39,40.66 L326.83,41.70 L327.28,42.83 L327.72,44.07 L328.17,45.41 L328.62,46.85 L329.06,48.39 L329.51,50.03 L329.95,51.76 L330.40,53.59 L330.85,55.50 L331.29,57.48 L331.74,59.53 L332.18,61.64 L332.63,63.79 L333.08,65.97 L333.52,68.18 L333.97,70.39 L334.41,72.60 L334.86,74.79 L335.31,76.96 L335.75,79.08 L336.20,81.15 L336.64,83.16 L337.09,85.10 L337.54,86.96 L337.98,88.73 L338.43,90.42 L338.87,92.01 L339.32,93.50 L339.77,94.89 L340.21,96.19 L340.66,97.39 L341.10,98.48 L341.55,99.49 L342.00,100.40 L342.44,101.22 L342.89,101.95 L343.33,102.59 L343.78,103.16 L344.23,103.65 L344.67,104.06 L345.12,104.40 L345.56,104.67 L346.01,104.87 L346.46,105.00 L346.90,105.07 L347.35,105.08 L347.79,105.02 L348.24,104.90 L348.69,104.72 L349.13,104.47 L349.58,104.15 L350.02,103.77 L350.47,103.31 L350.92,102.78 L351.36,102.18 L351.81,101.50 L352.25,100.74 L352.70,99.90 L353.15,98.97 L353.59,97.96 L354.04,96.87 L354.48,95.69 L354.93,94.43 L355.38,93.08 L355.82,91.65 L356.27,90.15 L356.71,88.56 L357.16,86.91 L357.61,85.20 L358.05,83.43 L358.50,81.61 L358.94,79.75 L359.39,77.86 L359.84,75.94 L360.28,74.02 L360.73,72.09 L361.17,70.17 L361.62,68.26 L362.07,66.38 L362.51,64.54 L362.96,62.75 L363.40,61.01 L363.85,59.32 L364.30,57.71 L364.74,56.16 L365.19,54.69 L365.63,53.30 L366.08,52.00 L366.53,50.77 L366.97,49.63 L367.42,48.58 L367.86,47.61 L368.31,46.73 L368.76,45.93 L369.20,45.21 L369.65,44.58 L370.09,44.02 L370.54,43.53 L370.99,43.12 L371.43,42.79 L371.88,42.52 L372.32,42.33 L372.77,42.20 L373.22,42.14 L373.66,42.15 L374.11,42.22 L374.55,42.36 L375.00,42.57 L375.45,42.84 L375.89,43.18 L376.34,43.59 L376.78,44.07 L377.23,44.61 L377.68,45.23 L378.12,45.91 L378.57,46.67 L379.01,47.50 L379.46,48.39 L379.91,49.36 L380.35,50.39 L380.80,51.49 L381.24,52.66 L381.69,53.89 L382.14,55.18 L382.58,56.52 L383.03,57.92 L383.47,59.36 L383.92,60.84 L384.37,62.36 L384.81,63.91 L385.26,65.48 L385.70,67.07 L386.15,68.67 L386.60,70.27 L387.04,71.86 L387.49,73.45 L387.93,75.01 L388.38,76.55 L388.83,78.06 L389.27,79.54 L389.72,80.97 L390.16,82.36 L390.61,83.69 L391.06,84.97 L391.50,86.20 L391.95,87.36 L392.39,88.46 L392.84,89.50 L393.29,90.48 L393.73,91.38 L394.18,92.22 L394.62,93.00 L395.07,93.70 L395.52,94.35 L395.96,94.92 L396.41,95.43 L396.85,95.88 L397.30,96.26 L397.75,96.59 L398.19,96.84 L398.64,97.04 L399.08,97.18 L399.53,97.26 L399.98,97.28 L400.42,97.24 L400.87,97.13 L401.31,96.97 L401.76,96.75 L402.21,96.47 L402.65,96.13 L403.10,95.73 L403.54,95.27 L403.99,94.74 L404.44,94.16 L404.88,93.51 L405.33,92.81 L405.77,92.04 L406.22,91.21 L406.67,90.33 L407.11,89.39 L407.56,88.39 L408.00,87.33 L408.45,86.23 L408.90,85.08 L409.34,83.88 L409.79,82.64 L410.23,81.36 L410.68,80.05 L411.13,78.72 L411.57,77.35 L412.02,75.97 L412.46,74.58 L412.91,73.19 L413.36,71.79 L413.80,70.39 L414.25,69.01 L414.69,67.65 L415.14,66.30 L415.59,64.99 L416.03,63.70 L416.48,62.46 L416.92,61.25 L417.37,60.09 L417.82,58.98 L418.26,57.92 L418.71,56.91 L419.15,55.96 L419.60,55.07 L420.05,54.24 L420.49,53.47 L420.94,52.76 L421.38,52.11 L421.83,51.52 L422.28,51.00 L422.72,50.54 L423.17,50.14 L423.61,49.81 L424.06,49.53 L424.51,49.32 L424.95,49.17 L425.40,49.08 L425.84,49.05 L426.29,49.08 L426.74,49.17 L427.18,49.31 L427.63,49.51 L428.07,49.77 L428.52,50.09 L428.97,50.46 L429.41,50.89 L429.86,51.38 L430.30,51.91 L430.75,52.51 L431.20,53.16 L431.64,53.86 L432.09,54.61 L432.53,55.41 L432.98,56.26 L433.43,57.16 L433.87,58.11 L434.32,59.09 L434.76,60.12 L435.21,61.18 L435.66,62.28 L436.10,63.40 L436.55,64.56 L436.99,65.74 L437.44,66.93 L437.89,68.14 L438.33,69.36 L438.78,70.58 L439.22,71.81 L439.67,73.03 L440.12,74.24 L440.56,75.44 L441.01,76.62 L441.45,77.78 L441.90,78.90" fill="none" stroke="#ff0000" stroke-width="0.8" stroke-linejoin="round"/>
</g>
<path d="M263.50,29.40 V113.80" fill="none" stroke="#e2e2e2" stroke-width="1.3"/>
<path d="M263.00,113.30 H442.30" fill="none" stroke="#d5d5d5" stroke-width="1"/>
<path d="M263.50,113.30 v-2 M299.18,113.30 v-2 M334.86,113.30 v-2 M370.54,113.30 v-2 M406.22,113.30 v-2 M441.90,113.30 v-2 M263.50,35.59 h2 M263.50,72.01 h2 M263.50,108.42 h2" fill="none" stroke="#d5d5d5" stroke-width="0.8"/>
<g font-family="Liberation Sans, Arial, Helvetica, sans-serif" font-size="7.3" fill="#2a2a2a" stroke="#2a2a2a" stroke-width="0.12">
<text transform="matrix(1 0.001 0 1 263.75 122.40)" text-anchor="middle">0</text>
<text transform="matrix(1 0.001 0 1 299.43 122.40)" text-anchor="middle">2</text>
<text transform="matrix(1 0.001 0 1 335.11 122.40)" text-anchor="middle">4</text>
<text transform="matrix(1 0.001 0 1 370.79 122.40)" text-anchor="middle">6</text>
<text transform="matrix(1 0.001 0 1 406.47 122.40)" text-anchor="middle">8</text>
<text transform="matrix(1 0.001 0 1 442.15 122.40)" text-anchor="middle">10</text>
<text transform="matrix(1 0.001 0 1 261.30 38.19)" text-anchor="end">50</text>
<text transform="matrix(1 0.001 0 1 261.30 74.61)" text-anchor="end">0</text>
<text transform="matrix(1 0.001 0 1 261.30 111.02)" text-anchor="end">-50</text>
</g>
<text font-family="Liberation Sans, Arial, Helvetica, sans-serif" font-size="8" fill="#2a2a2a" stroke="#2a2a2a" stroke-width="0.1" transform="matrix(1 0.001 0 1 353.30 132.20)" text-anchor="middle">Time [s]</text>
<text font-family="Liberation Sans, Arial, Helvetica, sans-serif" font-size="8" fill="#2a2a2a" stroke="#2a2a2a" stroke-width="0.1" text-anchor="middle" transform="translate(248.70,71.35) rotate(-90)">Position [mm]</text>
<text font-family="Liberation Sans, Arial, Helvetica, sans-serif" font-size="8" font-weight="bold" fill="#0c0c0c" stroke="#0c0c0c" stroke-width="0.12" transform="matrix(1 0.001 0 1 352.70 26.70)" text-anchor="middle">Position in X axis (RMSE = 4.76 mm)</text>
<text font-family="Liberation Sans, Arial, Helvetica, sans-serif" font-size="15" fill="#0c0c0c" transform="matrix(1.04 0.001 0 1 237.20 12.10)">(B)</text>
<clipPath id="cC"><rect x="501.60" y="24.30" width="179.30" height="85.70"/></clipPath>
<g clip-path="url(#cC)">
<path d="M502.86,108.14 L503.31,107.86 L503.38,107.79 L503.83,107.32 L503.90,107.22 L504.18,106.38 L504.62,104.78 L505.06,102.92 L505.54,100.65 L505.38,101.32 L504.93,102.89 L504.50,104.22 L504.06,105.31 L503.63,106.16 L503.22,106.80 L502.83,107.21 L502.49,107.43 L502.11,107.52 L502.29,108.30 L502.73,108.20Z M505.18,104.65 L505.70,103.12 L506.15,101.52 L506.60,99.68 L507.05,97.61 L507.49,95.30 L507.94,92.76 L508.38,90.00 L508.83,87.03 L509.27,83.88 L510.17,77.07 L511.06,69.75 L513.28,50.78 L513.73,47.17 L514.17,43.72 L514.62,40.48 L515.06,37.49 L515.51,34.80 L515.95,32.43 L516.39,30.44 L516.83,28.85 L517.26,27.69 L517.64,27.02 L517.71,26.97 L517.61,26.83 L517.34,26.69 L517.07,26.82 L516.68,27.37 L516.25,28.40 L515.81,29.86 L515.37,31.73 L514.92,33.97 L514.48,36.57 L514.03,39.48 L513.59,42.66 L513.14,46.08 L512.70,49.68 L512.25,53.43 L510.47,69.00 L509.58,76.60 L508.69,83.75 L508.25,87.09 L507.80,90.26 L507.35,93.24 L506.91,96.02 L506.46,98.58 L506.02,100.92 L505.57,103.03Z M525.38,68.74 L525.85,71.63 L526.30,74.21 L526.74,76.59 L527.19,78.78 L527.63,80.76 L528.08,82.52 L528.53,84.06 L528.98,85.38 L529.44,86.46 L529.90,87.33 L530.38,87.97 L530.45,88.04 L530.89,88.40 L531.04,88.47 L531.48,88.59 L531.69,88.59 L532.13,88.47 L532.28,88.40 L532.72,88.05 L532.79,87.98 L533.24,87.40 L533.73,86.50 L534.18,85.47 L534.64,84.18 L535.09,82.72 L535.54,81.04 L535.98,79.17 L536.43,77.11 L536.88,74.89 L537.32,72.50 L537.77,69.97 L538.21,67.31 L539.11,61.68 L541.33,46.99 L542.22,41.46 L542.67,38.90 L543.11,36.51 L543.55,34.32 L544.00,32.37 L544.44,30.67 L544.88,29.26 L545.31,28.15 L545.72,27.37 L546.05,26.98 L545.73,26.73 L545.44,26.69 L545.11,26.87 L545.03,26.96 L544.57,27.84 L544.13,28.98 L543.67,30.46 L543.22,32.17 L542.77,34.16 L542.33,36.35 L541.88,38.76 L541.43,41.33 L540.99,44.04 L540.10,49.77 L538.32,61.56 L537.43,67.18 L536.98,69.83 L536.54,72.36 L536.09,74.74 L535.65,76.95 L535.20,78.99 L534.76,80.84 L534.32,82.50 L533.88,83.94 L533.44,85.17 L533.01,86.17 L532.59,86.93 L532.19,87.45 L531.85,87.72 L531.59,87.79 L531.32,87.72 L530.98,87.45 L530.59,86.92 L530.17,86.14 L529.73,85.10 L529.30,83.83 L528.88,82.38 L528.67,81.98 L528.22,80.84 L527.77,79.49 L527.33,77.93 L526.88,76.15 L526.43,74.18 L525.99,72.01Z M546.86,27.19 L547.26,27.84 L547.69,28.80 L548.13,30.04 L548.57,31.53 L549.01,33.25 L549.45,35.16 L549.90,37.23 L550.99,42.62 L552.77,51.70 L553.66,55.98 L554.10,57.97 L554.55,59.85 L554.99,61.60 L555.43,63.19 L555.88,64.63 L556.32,65.90 L556.80,67.06 L556.46,65.89 L556.02,64.17 L555.57,62.31 L555.13,60.31 L554.69,58.18 L553.80,53.63 L552.02,43.97 L551.12,39.28 L550.68,37.07 L550.23,34.98 L549.79,33.06 L549.34,31.33 L548.89,29.81 L548.44,28.52 L547.98,27.49 L547.51,26.72 L547.44,26.64 L547.00,26.23 L546.82,26.13 L546.37,26.02 L546.24,26.01 L546.11,26.05 L545.77,26.21 L545.87,26.22 L545.99,26.27 L546.44,26.62Z M555.21,64.23 L555.69,66.09 L556.14,67.66 L556.59,69.08 L557.04,70.28 L557.49,71.33 L557.95,72.18 L558.47,72.91 L558.91,73.34 L559.01,73.41 L559.46,73.63 L559.62,73.68 L560.06,73.70 L560.23,73.67 L560.68,73.49 L560.79,73.43 L561.29,72.99 L561.76,72.37 L562.23,71.56 L562.67,70.60 L563.13,69.42 L563.58,68.10 L564.03,66.59 L564.48,64.95 L564.92,63.14 L565.37,61.22 L565.82,59.17 L566.26,57.03 L567.15,52.52 L568.49,45.51 L569.38,40.96 L569.82,38.79 L570.27,36.73 L570.71,34.81 L571.16,33.04 L571.60,31.46 L572.04,30.08 L572.47,28.92 L572.90,28.00 L573.31,27.34 L573.59,27.06 L573.30,26.81 L572.96,26.68 L572.82,26.70 L572.66,26.88 L572.21,27.59 L571.73,28.62 L571.28,29.82 L570.83,31.24 L570.38,32.84 L569.94,34.62 L569.49,36.56 L569.04,38.63 L568.15,43.06 L566.37,52.37 L565.48,56.87 L565.03,59.01 L564.59,61.04 L564.15,62.96 L563.70,64.74 L563.26,66.38 L562.82,67.85 L562.38,69.16 L561.94,70.28 L561.51,71.21 L561.09,71.94 L560.68,72.47 L560.32,72.78 L560.02,72.90 L559.74,72.88 L559.43,72.72 L559.05,72.36 L558.64,71.78 L558.22,70.99 L557.78,70.00 L557.51,69.25 L557.19,68.87 L556.74,68.14 L556.29,67.20 L555.83,66.07 L555.38,64.80Z M574.19,26.85 L574.51,27.06 L574.89,27.52 L575.31,28.24 L575.74,29.19 L576.18,30.35 L576.62,31.70 L577.06,33.20 L577.51,34.85 L577.95,36.61 L578.66,39.59 L579.48,42.67 L580.37,45.91 L580.81,47.45 L581.26,48.91 L581.70,50.27 L582.14,51.54 L582.53,52.55 L581.84,49.82 L581.40,47.96 L579.62,40.19 L578.73,36.42 L578.28,34.65 L577.83,32.99 L577.38,31.45 L576.94,30.09 L576.48,28.87 L576.03,27.89 L575.53,27.03 L575.08,26.50 L575.00,26.42 L574.55,26.13 L574.37,26.06 L573.92,26.02 L573.71,26.06 L573.30,26.25 L573.53,26.34 L573.61,26.39 L574.06,26.77 L574.12,26.84Z M581.05,49.96 L581.51,51.81 L581.96,53.52 L582.40,55.11 L582.86,56.61 L583.30,57.95 L583.76,59.18 L584.20,60.23 L584.66,61.14 L585.12,61.89 L585.60,62.48 L586.10,62.91 L586.19,62.96 L586.64,63.16 L586.78,63.19 L587.23,63.21 L587.38,63.19 L587.82,63.03 L587.93,62.97 L588.43,62.58 L588.91,62.03 L589.38,61.32 L589.83,60.45 L590.28,59.45 L590.74,58.27 L591.18,56.98 L591.63,55.54 L592.08,54.01 L592.53,52.36 L592.97,50.64 L593.87,46.99 L595.20,41.33 L596.09,37.67 L596.53,35.94 L596.98,34.30 L597.42,32.79 L597.86,31.40 L598.30,30.17 L598.74,29.12 L599.17,28.25 L599.59,27.58 L599.98,27.13 L600.11,27.04 L600.00,26.94 L599.62,26.73 L599.31,26.68 L598.93,27.13 L598.46,27.87 L598.02,28.77 L597.55,29.90 L597.11,31.14 L596.65,32.56 L596.21,34.09 L595.76,35.74 L594.87,39.28 L593.09,46.80 L592.20,50.44 L591.75,52.16 L591.31,53.79 L590.87,55.31 L590.42,56.72 L589.98,58.00 L589.54,59.13 L589.11,60.11 L588.68,60.93 L588.26,61.57 L587.86,62.02 L587.50,62.30 L587.18,62.41 L586.89,62.40 L586.57,62.26 L586.19,61.94 L585.79,61.45 L585.37,60.76 L584.93,59.90 L584.50,58.88 L584.06,57.69 L583.62,56.36 L583.32,55.39 L583.00,54.84 L582.56,53.93 L582.11,52.89 L581.65,51.71Z M600.89,26.88 L601.23,27.10 L601.62,27.53 L602.04,28.15 L602.47,28.95 L602.90,29.91 L603.34,31.02 L603.78,32.25 L604.23,33.58 L605.11,36.47 L605.85,39.00 L606.63,41.27 L607.08,42.50 L607.52,43.67 L607.96,44.77 L608.41,45.79 L608.85,46.71 L609.34,47.62 L608.99,46.62 L608.55,45.27 L608.11,43.84 L607.66,42.36 L605.88,36.25 L604.99,33.34 L604.54,31.99 L604.09,30.74 L603.64,29.61 L603.19,28.61 L602.71,27.72 L602.27,27.05 L601.78,26.52 L601.71,26.46 L601.27,26.17 L601.13,26.11 L600.68,26.02 L600.51,26.02 L600.06,26.13 L599.93,26.19 L599.83,26.25 L600.28,26.50 L600.65,26.83Z M607.98,46.11 L608.68,48.17 L609.14,49.37 L609.58,50.46 L610.03,51.44 L610.49,52.31 L610.95,53.05 L611.45,53.70 L611.89,54.14 L612.40,54.49 L612.49,54.54 L612.93,54.70 L613.05,54.72 L613.50,54.73 L613.62,54.72 L614.07,54.59 L614.16,54.55 L614.61,54.28 L615.12,53.83 L615.63,53.22 L616.09,52.52 L616.53,51.73 L617.00,50.80 L617.45,49.78 L617.89,48.66 L618.34,47.47 L618.79,46.20 L619.24,44.87 L620.13,42.08 L621.46,37.79 L622.35,35.04 L622.79,33.74 L623.24,32.52 L623.68,31.38 L624.12,30.35 L624.56,29.43 L624.99,28.63 L625.41,27.98 L625.83,27.47 L626.22,27.11 L626.48,26.95 L626.31,26.85 L625.92,26.71 L625.54,26.67 L625.51,26.67 L625.26,26.90 L624.78,27.49 L624.31,28.21 L623.84,29.07 L623.39,30.01 L622.94,31.09 L622.49,32.23 L622.04,33.48 L621.59,34.78 L620.70,37.55 L619.36,41.84 L618.48,44.62 L618.03,45.94 L617.59,47.20 L617.15,48.38 L616.71,49.47 L616.27,50.47 L615.83,51.35 L615.40,52.12 L614.97,52.75 L614.56,53.26 L614.16,53.62 L613.80,53.84 L613.46,53.93 L613.14,53.92 L612.80,53.80 L612.43,53.55 L612.03,53.15 L611.62,52.61 L611.19,51.92 L610.75,51.10 L610.32,50.15 L610.05,49.49 L609.74,49.15 L609.30,48.54 L608.84,47.80 L608.39,46.95Z M627.56,26.98 L627.94,27.26 L628.35,27.67 L628.77,28.23 L629.20,28.91 L629.63,29.70 L630.07,30.59 L630.52,31.61 L632.44,35.37 L633.33,37.05 L633.86,37.99 L632.14,33.44 L631.69,32.32 L631.25,31.26 L630.80,30.26 L630.34,29.32 L629.89,28.51 L629.43,27.78 L628.97,27.17 L628.49,26.67 L628.00,26.31 L627.91,26.26 L627.47,26.08 L627.35,26.05 L626.90,26.01 L626.77,26.02 L626.33,26.14 L626.13,26.23 L626.56,26.39 L627.00,26.66 L627.24,26.85Z M632.45,36.51 L634.07,40.77 L634.51,41.87 L634.96,42.93 L635.41,43.92 L635.86,44.84 L636.32,45.70 L636.77,46.43 L637.23,47.09 L637.69,47.65 L638.17,48.11 L638.66,48.46 L639.17,48.70 L639.71,48.81 L639.81,48.82 L640.26,48.78 L640.36,48.76 L640.88,48.57 L641.38,48.27 L641.86,47.86 L642.30,47.37 L642.79,46.73 L643.25,46.02 L643.69,45.24 L644.15,44.35 L644.60,43.40 L645.05,42.39 L645.94,40.23 L647.72,35.63 L648.61,33.41 L649.05,32.36 L649.50,31.37 L649.94,30.46 L650.37,29.62 L650.81,28.89 L651.24,28.25 L651.66,27.73 L652.06,27.33 L652.45,27.04 L652.72,26.92 L652.59,26.85 L652.19,26.72 L651.80,26.67 L651.59,26.68 L651.57,26.70 L651.08,27.18 L650.60,27.76 L650.12,28.47 L649.68,29.23 L649.22,30.10 L648.77,31.04 L648.32,32.05 L647.42,34.21 L645.64,38.80 L644.76,41.03 L644.31,42.08 L643.87,43.07 L643.43,44.00 L642.99,44.85 L642.56,45.61 L642.13,46.28 L641.70,46.84 L641.29,47.30 L640.88,47.64 L640.50,47.87 L640.15,47.99 L639.80,48.02 L639.46,47.95 L639.09,47.79 L638.70,47.51 L638.29,47.13 L637.87,46.62 L637.45,46.01 L637.01,45.29 L636.58,44.48 L636.14,43.58 L635.70,42.61 L635.25,41.57 L634.76,40.35 L634.23,39.58 L633.77,38.86 L633.32,38.10Z M653.86,26.96 L654.24,27.19 L654.64,27.53 L655.06,27.98 L655.49,28.53 L655.92,29.17 L656.36,29.89 L657.00,31.06 L659.15,34.54 L660.03,35.86 L660.58,36.60 L658.40,32.05 L657.50,30.30 L657.05,29.49 L656.59,28.73 L656.14,28.07 L655.68,27.48 L655.21,26.97 L654.73,26.56 L654.16,26.22 L653.72,26.07 L653.62,26.05 L653.17,26.01 L653.07,26.02 L652.62,26.10 L652.33,26.22 L652.81,26.38 L653.26,26.61 L653.68,26.90Z M659.17,35.52 L660.35,37.94 L660.80,38.80 L661.25,39.62 L661.70,40.38 L662.15,41.08 L662.63,41.73 L663.07,42.27 L663.54,42.75 L664.01,43.16 L664.50,43.47 L665.00,43.69 L665.52,43.82 L666.13,43.83 L666.64,43.73 L667.09,43.55 L667.63,43.23 L668.11,42.86 L668.56,42.43 L669.04,41.88 L669.50,41.28 L669.95,40.63 L670.40,39.91 L670.85,39.15 L671.30,38.35 L672.20,36.65 L673.98,33.14 L674.86,31.47 L675.30,30.70 L675.74,29.98 L676.18,29.31 L676.61,28.72 L677.04,28.19 L677.46,27.75 L677.87,27.39 L678.27,27.12 L678.66,26.94 L678.81,26.90 L678.45,26.77 L678.04,26.69 L677.63,26.67 L677.49,26.68 L677.37,26.77 L676.89,27.18 L676.43,27.67 L675.97,28.24 L675.51,28.87 L675.07,29.54 L674.61,30.30 L674.16,31.09 L673.27,32.77 L671.04,37.14 L670.16,38.76 L669.72,39.50 L669.28,40.19 L668.85,40.82 L668.41,41.38 L667.99,41.87 L667.57,42.27 L667.16,42.59 L666.77,42.82 L666.39,42.97 L666.02,43.04 L665.66,43.03 L665.29,42.95 L664.91,42.78 L664.51,42.53 L664.10,42.18 L663.68,41.75 L663.25,41.23 L662.82,40.63 L662.38,39.96 L661.95,39.23 L661.51,38.43 L660.97,37.89 L660.50,37.35 L660.05,36.78 L659.60,36.16Z M680.17,27.00 L680.43,26.24 L679.91,26.07 L679.38,26.01 L678.86,26.05 L678.41,26.17 L678.32,26.21 L678.60,26.28 L679.08,26.44 L679.52,26.66 L679.94,26.92Z M527.53,76.44 L527.08,74.06 L526.64,71.50 L526.19,68.77 L525.75,65.89 L524.86,59.78 L523.08,46.97 L522.19,40.88 L521.74,38.06 L521.29,35.45 L520.85,33.09 L520.40,31.03 L519.95,29.29 L519.48,27.86 L519.04,26.90 L518.98,26.82 L518.54,26.28 L518.44,26.19 L518.32,26.14 L517.88,26.03 L517.70,26.03 L517.55,26.10 L517.45,26.17 L517.90,26.39 L518.00,26.48 L518.47,27.15 L518.92,28.20 L519.37,29.61 L519.82,31.35 L520.27,33.39 L520.71,35.70 L521.16,38.22 L521.60,40.93 L522.49,46.73 L524.27,58.74 L525.16,64.41 L525.61,67.06 L526.05,69.57 L526.50,71.91 L526.94,74.07 L527.39,76.03 L527.69,77.24Z" fill="#0000ff" fill-rule="evenodd" stroke="none"/>
<path d="M502.20,110.40 L502.65,110.18 L503.09,109.68 L503.54,108.88 L503.98,107.80 L504.43,106.45 L504.87,104.84 L505.32,102.98 L505.76,100.87 L506.21,98.54 L506.65,95.98 L507.10,93.20 L507.54,90.23 L507.99,87.06 L508.43,83.72 L508.88,80.21 L509.32,76.57 L509.77,72.81 L510.21,68.97 L510.66,65.07 L511.10,61.15 L511.55,57.24 L512.00,53.40 L512.44,49.65 L512.89,46.04 L513.33,42.63 L513.78,39.44 L514.22,36.53 L514.67,33.93 L515.11,31.67 L515.56,29.79 L516.00,28.31 L516.45,27.25 L516.89,26.61 L517.34,26.41 L517.78,26.63 L518.23,27.26 L518.67,28.28 L519.12,29.68 L519.56,31.41 L520.01,33.44 L520.46,35.74 L520.90,38.27 L521.35,40.97 L521.79,43.82 L522.24,46.77 L522.68,49.77 L523.13,52.80 L523.57,55.81 L524.02,58.78 L524.46,61.66 L524.91,64.45 L525.35,67.11 L525.80,69.62 L526.24,71.96 L526.69,74.12 L527.13,76.10 L527.58,77.86 L528.02,79.42 L528.47,80.76 L528.91,81.88 L529.36,82.77 L529.81,83.44 L530.25,83.87 L530.70,84.08 L531.14,84.06 L531.59,83.81 L532.03,83.34 L532.48,82.65 L532.92,81.75 L533.37,80.64 L533.81,79.32 L534.26,77.81 L534.70,76.10 L535.15,74.22 L535.59,72.17 L536.04,69.96 L536.48,67.61 L536.93,65.13 L537.37,62.55 L537.82,59.88 L538.27,57.15 L538.71,54.38 L539.16,51.59 L539.60,48.82 L540.05,46.09 L540.49,43.43 L540.94,40.86 L541.38,38.43 L541.83,36.15 L542.27,34.06 L542.72,32.18 L543.16,30.54 L543.61,29.15 L544.05,28.03 L544.50,27.20 L544.94,26.66 L545.39,26.42 L545.83,26.48 L546.28,26.83 L546.73,27.46 L547.17,28.36 L547.62,29.51 L548.06,30.90 L548.51,32.50 L548.95,34.27 L549.40,36.21 L549.84,38.27 L550.29,40.43 L550.73,42.67 L551.18,44.94 L551.62,47.23 L552.07,49.51 L552.51,51.75 L552.96,53.93 L553.40,56.03 L553.85,58.03 L554.29,59.91 L554.74,61.66 L555.18,63.27 L555.63,64.71 L556.08,65.99 L556.52,67.09 L556.97,68.00 L557.41,68.73 L557.86,69.26 L558.30,69.60 L558.75,69.74 L559.19,69.68 L559.64,69.42 L560.08,68.97 L560.53,68.33 L560.97,67.51 L561.42,66.50 L561.86,65.32 L562.31,63.98 L562.75,62.49 L563.20,60.85 L563.64,59.09 L564.09,57.21 L564.53,55.24 L564.98,53.18 L565.43,51.07 L565.87,48.91 L566.32,46.74 L566.76,44.57 L567.21,42.42 L567.65,40.32 L568.10,38.30 L568.54,36.37 L568.99,34.56 L569.43,32.89 L569.88,31.38 L570.32,30.04 L570.77,28.90 L571.21,27.97 L571.66,27.24 L572.10,26.74 L572.55,26.47 L572.99,26.41 L573.44,26.58 L573.89,26.97 L574.33,27.56 L574.78,28.34 L575.22,29.30 L575.67,30.42 L576.11,31.69 L576.56,33.07 L577.00,34.56 L577.45,36.12 L577.89,37.74 L578.34,39.40 L578.78,41.07 L579.23,42.74 L579.67,44.38 L580.12,45.98 L580.56,47.52 L581.01,48.98 L581.45,50.36 L581.90,51.63 L582.35,52.79 L582.79,53.82 L583.24,54.72 L583.68,55.49 L584.13,56.11 L584.57,56.58 L585.02,56.90 L585.46,57.07 L585.91,57.09 L586.35,56.95 L586.80,56.66 L587.24,56.23 L587.69,55.65 L588.13,54.93 L588.58,54.08 L589.02,53.10 L589.47,52.01 L589.91,50.80 L590.36,49.50 L590.80,48.12 L591.25,46.66 L591.70,45.15 L592.14,43.59 L592.59,42.01 L593.03,40.41 L593.48,38.83 L593.92,37.27 L594.37,35.76 L594.81,34.31 L595.26,32.93 L595.70,31.65 L596.15,30.49 L596.59,29.45 L597.04,28.54 L597.48,27.79 L597.93,27.19 L598.37,26.76 L598.82,26.50 L599.26,26.41 L599.71,26.48 L600.15,26.73 L600.60,27.13 L601.05,27.69 L601.49,28.39 L601.94,29.22 L602.38,30.17 L602.83,31.22 L603.27,32.36 L603.72,33.57 L604.16,34.83 L604.61,36.13 L605.05,37.45 L605.50,38.77 L605.94,40.07 L606.39,41.35 L606.83,42.59 L607.28,43.76 L607.72,44.87 L608.17,45.89 L608.61,46.83 L609.06,47.66 L609.51,48.39 L609.95,49.00 L610.40,49.49 L610.84,49.86 L611.29,50.10 L611.73,50.21 L612.18,50.20 L612.62,50.06 L613.07,49.79 L613.51,49.41 L613.96,48.90 L614.40,48.28 L614.85,47.56 L615.29,46.74 L615.74,45.83 L616.18,44.85 L616.63,43.79 L617.07,42.67 L617.52,41.51 L617.96,40.32 L618.41,39.10 L618.86,37.88 L619.30,36.66 L619.75,35.45 L620.19,34.28 L620.64,33.15 L621.08,32.08 L621.53,31.07 L621.97,30.15 L622.42,29.31 L622.86,28.56 L623.31,27.92 L623.75,27.39 L624.20,26.97 L624.64,26.66 L625.09,26.48 L625.53,26.41 L625.98,26.45 L626.42,26.61 L626.87,26.88 L627.32,27.25 L627.76,27.71 L628.21,28.27 L628.65,28.89 L629.10,29.59 L629.54,30.35 L629.99,31.15 L630.43,31.99 L630.88,32.85 L631.32,33.73 L631.77,34.61 L632.21,35.49 L632.66,36.35 L633.10,37.18 L633.55,37.98 L633.99,38.73 L634.44,39.43 L634.88,40.08 L635.33,40.66 L635.77,41.17 L636.22,41.61 L636.67,41.97 L637.11,42.25 L637.56,42.45 L638.00,42.56 L638.45,42.58 L638.89,42.52 L639.34,42.38 L639.78,42.15 L640.23,41.84 L640.67,41.45 L641.12,40.99 L641.56,40.46 L642.01,39.87 L642.45,39.21 L642.90,38.51 L643.34,37.76 L643.79,36.97 L644.23,36.15 L644.68,35.32 L645.13,34.47 L645.57,33.63 L646.02,32.79 L646.46,31.96 L646.91,31.17 L647.35,30.41 L647.80,29.70 L648.24,29.03 L648.69,28.43 L649.13,27.90 L649.58,27.44 L650.02,27.06 L650.47,26.77 L650.91,26.56 L651.36,26.44 L651.80,26.41 L652.25,26.47 L652.69,26.61 L653.14,26.84 L653.58,27.15 L654.03,27.54 L654.48,28.00 L654.92,28.52 L655.37,29.09 L655.81,29.72 L656.26,30.38 L656.70,31.08 L657.15,31.79 L657.59,32.52 L658.04,33.25 L658.48,33.97 L658.93,34.68 L659.37,35.36 L659.82,36.01 L660.26,36.63 L660.71,37.19 L661.15,37.71 L661.60,38.17 L662.04,38.56 L662.49,38.89 L662.94,39.15 L663.38,39.33 L663.83,39.45 L664.27,39.48 L664.72,39.45 L665.16,39.34 L665.61,39.16 L666.05,38.91 L666.50,38.60 L666.94,38.23 L667.39,37.80 L667.83,37.31 L668.28,36.78 L668.72,36.21 L669.17,35.61 L669.61,34.97 L670.06,34.31 L670.50,33.64 L670.95,32.96 L671.39,32.28 L671.84,31.61 L672.29,30.95 L672.73,30.31 L673.18,29.70 L673.62,29.13 L674.07,28.60 L674.51,28.12 L674.96,27.68 L675.40,27.31 L675.85,27.00 L676.29,26.75 L676.74,26.57 L677.18,26.45 L677.63,26.41 L678.07,26.43 L678.52,26.52 L678.96,26.68 L679.41,26.89 L679.85,27.17 L680.30,27.50" fill="none" stroke="#ff0000" stroke-width="0.8" stroke-linejoin="round"/>
</g>
<path d="M502.20,25.00 V109.90" fill="none" stroke="#e2e2e2" stroke-width="1.3"/>
<path d="M501.70,109.40 H680.70" fill="none" stroke="#d5d5d5" stroke-width="1"/>
<path d="M502.20,109.40 v-2 M537.82,109.40 v-2 M573.44,109.40 v-2 M609.06,109.40 v-2 M644.68,109.40 v-2 M680.30,109.40 v-2 M502.20,25.00 h2 M502.20,53.13 h2 M502.20,81.27 h2 M502.20,109.40 h2" fill="none" stroke="#d5d5d5" stroke-width="0.8"/>
<g font-family="Liberation Sans, Arial, Helvetica, sans-serif" font-size="7.3" fill="#2a2a2a" stroke="#2a2a2a" stroke-width="0.12">
<text transform="matrix(1 0.001 0 1 502.45 118.50)" text-anchor="middle">0</text>
<text transform="matrix(1 0.001 0 1 538.07 118.50)" text-anchor="middle">2</text>
<text transform="matrix(1 0.001 0 1 573.69 118.50)" text-anchor="middle">4</text>
<text transform="matrix(1 0.001 0 1 609.31 118.50)" text-anchor="middle">6</text>
<text transform="matrix(1 0.001 0 1 644.93 118.50)" text-anchor="middle">8</text>
<text transform="matrix(1 0.001 0 1 680.55 118.50)" text-anchor="middle">10</text>
<text transform="matrix(1 0.001 0 1 500.00 27.60)" text-anchor="end">60</text>
<text transform="matrix(1 0.001 0 1 500.00 55.73)" text-anchor="end">40</text>
<text transform="matrix(1 0.001 0 1 500.00 83.87)" text-anchor="end">20</text>
<text transform="matrix(1 0.001 0 1 500.00 112.00)" text-anchor="end">0</text>
</g>
<text font-family="Liberation Sans, Arial, Helvetica, sans-serif" font-size="8" fill="#2a2a2a" stroke="#2a2a2a" stroke-width="0.1" transform="matrix(1 0.001 0 1 591.85 128.30)" text-anchor="middle">Time [s]</text>
<text font-family="Liberation Sans, Arial, Helvetica, sans-serif" font-size="8" fill="#2a2a2a" stroke="#2a2a2a" stroke-width="0.1" text-anchor="middle" transform="translate(489.60,67.20) rotate(-90)">Position [mm]</text>
<text font-family="Liberation Sans, Arial, Helvetica, sans-serif" font-size="8" font-weight="bold" fill="#0c0c0c" stroke="#0c0c0c" stroke-width="0.12" transform="matrix(1 0.001 0 1 591.25 23.10)" text-anchor="middle">Position in Y axis (RMSE = 2.83 mm)</text>
<text font-family="Liberation Sans, Arial, Helvetica, sans-serif" font-size="15" fill="#0c0c0c" transform="matrix(1.04 0.001 0 1 475.90 12.10)">(C)</text>
<clipPath id="cD"><rect x="24.40" y="156.40" width="179.40" height="85.50"/></clipPath>
<g clip-path="url(#cD)">
<path d="M25.80,167.20 L26.20,167.31 L26.61,167.46 L27.01,167.67 L27.43,167.94 L27.84,168.27 L28.26,168.66 L28.69,169.13 L29.12,169.66 L29.55,170.26 L29.97,170.90 L29.68,170.40 L29.24,169.70 L28.80,169.05 L28.36,168.46 L27.92,167.94 L27.49,167.48 L27.06,167.08 L26.63,166.75 L26.21,166.50 L25.89,166.35 L25.47,166.28 L25.02,166.26 L24.98,167.11 L25.40,167.13Z M49.53,223.47 L50.08,224.15 L50.53,224.63 L50.99,225.07 L51.47,225.45 L51.98,225.79 L52.43,226.02 L52.92,226.21 L53.42,226.33 L53.92,226.38 L54.48,226.35 L54.98,226.26 L55.47,226.10 L55.92,225.89 L56.44,225.58 L56.91,225.24 L57.38,224.83 L57.84,224.37 L58.28,223.87 L58.76,223.28 L59.21,222.65 L59.66,221.99 L60.12,221.24 L60.56,220.47 L61.02,219.62 L61.47,218.74 L62.37,216.84 L62.81,215.83 L63.71,213.68 L64.60,211.40 L65.94,207.78 L66.83,205.27 L69.51,197.62 L70.84,193.92 L71.73,191.56 L72.62,189.33 L73.50,187.25 L73.95,186.27 L74.83,184.45 L75.27,183.61 L75.71,182.81 L76.15,182.07 L76.59,181.39 L77.02,180.75 L77.46,180.17 L77.89,179.65 L78.32,179.18 L78.74,178.77 L79.17,178.42 L79.58,178.12 L79.99,177.88 L80.40,177.69 L80.80,177.56 L81.20,177.47 L81.59,177.44 L81.98,177.45 L82.38,177.52 L82.78,177.63 L83.18,177.79 L83.59,178.00 L84.01,178.27 L84.43,178.58 L84.86,178.95 L85.28,179.36 L85.71,179.83 L86.15,180.34 L86.58,180.91 L87.02,181.51 L87.46,182.16 L87.90,182.86 L88.34,183.59 L89.22,185.18 L90.11,186.90 L90.99,188.75 L91.88,190.69 L93.27,193.88 L92.48,191.98 L91.59,189.89 L90.70,187.90 L90.25,186.94 L89.37,185.13 L88.92,184.27 L88.04,182.67 L87.59,181.94 L87.15,181.24 L86.71,180.60 L86.27,180.00 L85.83,179.45 L85.40,178.96 L84.96,178.51 L84.53,178.12 L84.10,177.78 L83.67,177.50 L83.25,177.27 L82.83,177.09 L82.41,176.97 L82.00,176.90 L81.59,176.88 L81.17,176.92 L80.76,177.01 L80.34,177.16 L79.92,177.36 L79.50,177.61 L79.07,177.93 L78.64,178.30 L78.20,178.72 L77.77,179.20 L77.33,179.74 L76.89,180.33 L76.45,180.98 L76.01,181.68 L75.57,182.43 L75.13,183.23 L74.68,184.08 L73.80,185.91 L72.91,187.91 L72.46,188.96 L71.57,191.18 L70.68,193.51 L69.79,195.94 L66.68,204.72 L65.34,208.40 L64.00,211.91 L63.11,214.10 L62.21,216.15 L61.77,217.12 L60.87,218.93 L60.42,219.76 L59.98,220.55 L59.53,221.29 L59.08,221.98 L58.62,222.63 L58.17,223.21 L57.72,223.74 L57.26,224.22 L56.81,224.65 L56.33,225.03 L55.88,225.33 L55.42,225.59 L54.95,225.78 L54.47,225.92 L54.00,225.99 L53.48,226.00 L53.00,225.94 L52.52,225.81 L52.05,225.62 L51.61,225.38 L51.12,225.05 L50.66,224.67 L50.20,224.24 L49.76,223.75Z M104.72,216.39 L105.37,217.00 L105.81,217.36 L106.28,217.69 L106.76,217.97 L107.24,218.20 L107.76,218.38 L108.25,218.50 L108.75,218.56 L109.24,218.56 L109.74,218.51 L110.23,218.40 L110.71,218.24 L111.19,218.02 L111.64,217.77 L112.14,217.43 L112.60,217.06 L113.06,216.64 L113.51,216.20 L113.98,215.67 L114.44,215.12 L114.88,214.53 L115.34,213.89 L115.80,213.21 L116.70,211.74 L117.15,210.96 L118.04,209.30 L118.94,207.53 L119.83,205.67 L120.72,203.76 L123.40,197.93 L124.73,195.13 L125.62,193.35 L126.06,192.50 L126.94,190.89 L127.38,190.14 L128.26,188.73 L128.70,188.08 L129.14,187.48 L129.58,186.92 L130.01,186.40 L130.45,185.92 L130.88,185.49 L131.30,185.11 L131.73,184.77 L132.15,184.47 L132.57,184.22 L132.98,184.02 L133.39,183.86 L133.80,183.74 L134.21,183.67 L134.61,183.63 L135.01,183.64 L135.42,183.68 L135.82,183.76 L136.23,183.89 L136.65,184.05 L137.07,184.26 L137.49,184.50 L137.91,184.78 L138.34,185.10 L138.77,185.46 L139.20,185.85 L139.64,186.28 L140.07,186.74 L140.95,187.76 L141.83,188.89 L142.71,190.12 L143.59,191.45 L144.48,192.85 L145.65,194.78 L144.17,192.24 L142.84,190.10 L141.95,188.78 L141.51,188.15 L140.63,187.00 L140.19,186.47 L139.75,185.97 L139.31,185.51 L138.87,185.09 L138.44,184.70 L138.00,184.35 L137.57,184.05 L137.14,183.79 L136.71,183.56 L136.29,183.39 L135.86,183.25 L135.44,183.16 L135.02,183.11 L134.60,183.11 L134.18,183.15 L133.76,183.23 L133.34,183.36 L132.92,183.53 L132.49,183.75 L132.06,184.01 L131.63,184.32 L131.20,184.67 L130.76,185.07 L130.33,185.52 L129.89,186.00 L129.45,186.53 L129.01,187.10 L128.57,187.71 L128.13,188.36 L127.69,189.05 L126.80,190.52 L125.91,192.12 L125.47,192.96 L124.58,194.71 L123.24,197.46 L120.57,203.16 L119.68,205.03 L118.79,206.84 L117.89,208.58 L117.00,210.22 L116.55,211.00 L115.66,212.46 L115.21,213.13 L114.75,213.78 L114.31,214.38 L113.86,214.94 L113.41,215.46 L112.95,215.94 L112.50,216.38 L112.04,216.77 L111.57,217.13 L111.12,217.41 L110.66,217.66 L110.19,217.87 L109.72,218.02 L109.25,218.12 L108.75,218.17 L108.28,218.16 L107.80,218.10 L107.33,217.99 L106.89,217.83 L106.40,217.61 L105.93,217.34 L105.47,217.02 L105.03,216.67Z M157.04,211.30 L157.51,211.68 L157.96,211.99 L158.42,212.28 L158.89,212.54 L159.39,212.77 L159.84,212.94 L160.31,213.08 L160.79,213.18 L161.31,213.25 L161.79,213.26 L162.27,213.24 L162.75,213.18 L163.23,213.07 L163.71,212.92 L164.15,212.75 L164.65,212.51 L165.12,212.25 L165.58,211.95 L166.04,211.61 L166.49,211.25 L166.95,210.85 L167.41,210.41 L167.87,209.94 L168.33,209.44 L169.23,208.37 L169.68,207.79 L170.58,206.58 L171.47,205.29 L172.37,203.93 L175.94,198.30 L177.27,196.27 L178.15,194.98 L178.60,194.36 L179.48,193.20 L179.92,192.65 L180.79,191.64 L181.67,190.74 L182.10,190.34 L182.53,189.96 L182.96,189.62 L183.39,189.32 L183.82,189.04 L184.24,188.80 L184.66,188.59 L185.08,188.42 L185.50,188.28 L185.92,188.17 L186.33,188.09 L186.75,188.04 L187.16,188.03 L187.58,188.04 L187.99,188.09 L188.41,188.16 L188.83,188.27 L189.25,188.40 L189.67,188.57 L190.10,188.76 L190.52,188.98 L190.95,189.23 L191.38,189.50 L192.25,190.12 L193.12,190.84 L193.99,191.65 L194.87,192.54 L195.75,193.50 L196.64,194.52 L197.52,195.59 L198.81,197.21 L197.65,195.66 L196.32,193.96 L195.43,192.89 L194.54,191.88 L193.66,190.96 L192.78,190.13 L191.90,189.40 L191.47,189.08 L191.03,188.78 L190.60,188.51 L190.16,188.27 L189.73,188.06 L189.30,187.89 L188.87,187.74 L188.44,187.63 L188.01,187.55 L187.59,187.50 L187.16,187.48 L186.74,187.50 L186.31,187.55 L185.89,187.63 L185.46,187.75 L185.03,187.91 L184.60,188.09 L184.17,188.31 L183.74,188.57 L183.30,188.86 L182.87,189.18 L182.43,189.53 L181.99,189.92 L181.55,190.33 L181.11,190.77 L180.23,191.75 L179.79,192.27 L178.90,193.39 L178.46,193.98 L177.57,195.22 L176.69,196.52 L175.80,197.86 L173.12,201.99 L172.23,203.35 L170.89,205.30 L170.00,206.52 L169.10,207.67 L168.65,208.21 L167.75,209.22 L167.30,209.69 L166.84,210.13 L166.40,210.53 L165.94,210.91 L165.48,211.26 L165.03,211.57 L164.58,211.85 L164.12,212.10 L163.64,212.32 L163.20,212.49 L162.73,212.63 L162.27,212.73 L161.80,212.80 L161.34,212.83 L160.85,212.81 L160.38,212.76 L159.92,212.67 L159.45,212.55 L159.01,212.39 L158.53,212.18 L158.07,211.94 L157.61,211.67 L157.16,211.36 L156.71,211.03Z M203.53,201.88 L202.20,200.21 L199.97,197.32 L198.63,195.61 L197.73,194.51 L196.84,193.45 L195.94,192.44 L195.03,191.49 L194.13,190.61 L193.67,190.20 L193.05,189.68 L193.57,190.15 L194.03,190.59 L194.93,191.53 L195.82,192.55 L196.72,193.63 L197.61,194.76 L198.51,195.93 L201.63,200.15 L203.17,202.17Z M160.12,212.14 L159.71,211.98 L159.29,211.78 L158.86,211.55 L158.44,211.29 L158.01,210.99 L157.58,210.65 L157.15,210.28 L156.72,209.88 L156.28,209.45 L155.85,208.98 L154.97,207.96 L154.09,206.83 L153.65,206.22 L152.77,204.95 L151.44,202.89 L150.55,201.44 L149.66,199.95 L146.09,193.86 L144.75,191.69 L143.86,190.31 L142.96,189.00 L142.51,188.39 L141.61,187.22 L141.16,186.68 L140.69,186.16 L140.24,185.68 L139.55,185.01 L140.13,185.62 L140.58,186.13 L141.03,186.67 L141.48,187.24 L142.38,188.48 L143.28,189.82 L144.17,191.24 L145.51,193.49 L149.07,199.78 L150.41,202.07 L151.30,203.53 L152.18,204.91 L153.07,206.20 L153.51,206.81 L154.40,207.94 L155.28,208.96 L155.72,209.42 L156.16,209.85 L156.59,210.25 L157.03,210.61 L157.46,210.94 L157.90,211.24 L158.33,211.49 L158.76,211.72 L159.19,211.90 L159.62,212.05 L160.04,212.17 L160.52,212.26Z M128.50,186.93 L128.00,187.60 L127.55,188.27 L127.10,188.97 L126.20,190.47 L125.75,191.28 L124.86,192.97 L123.97,194.75 L123.25,196.24 L124.56,193.58 L125.45,191.87 L125.90,191.05 L126.80,189.50 L127.24,188.77 L127.70,188.07Z M107.99,217.56 L107.58,217.42 L107.17,217.22 L106.76,216.98 L106.34,216.69 L105.91,216.35 L105.49,215.95 L105.06,215.51 L104.62,215.02 L104.19,214.49 L103.75,213.91 L103.31,213.28 L102.88,212.61 L101.99,211.14 L101.55,210.35 L100.67,208.67 L99.78,206.85 L98.89,204.93 L97.56,201.89 L94.44,194.48 L93.11,191.36 L91.77,188.39 L90.87,186.53 L89.97,184.78 L89.53,183.96 L88.62,182.41 L88.17,181.70 L87.72,181.03 L87.27,180.40 L86.81,179.82 L86.35,179.26 L86.69,179.69 L87.13,180.29 L87.58,180.95 L88.04,181.67 L88.48,182.41 L89.38,184.03 L89.83,184.89 L90.72,186.72 L91.62,188.67 L92.96,191.78 L93.85,193.93 L96.52,200.48 L97.41,202.61 L98.30,204.67 L99.19,206.64 L100.08,208.49 L100.96,210.21 L101.41,211.01 L101.85,211.77 L102.29,212.49 L102.73,213.17 L103.17,213.81 L103.61,214.39 L104.05,214.93 L104.49,215.43 L104.92,215.87 L105.36,216.26 L105.79,216.61 L106.22,216.91 L106.65,217.15 L107.07,217.35 L107.49,217.49 L107.91,217.59 L108.32,217.64Z M75.56,181.42 L74.97,182.40 L74.52,183.20 L74.07,184.06 L73.62,184.97 L72.72,186.91 L72.28,187.94 L71.38,190.11 L70.49,192.42 L69.60,194.84 L68.26,198.60 L66.22,204.45 L69.31,195.76 L70.64,192.15 L71.54,189.86 L72.43,187.70 L72.88,186.68 L73.77,184.74 L74.22,183.84 L74.67,182.98 L75.11,182.17Z M53.19,225.40 L52.79,225.25 L52.39,225.04 L51.98,224.77 L51.56,224.44 L51.14,224.05 L50.71,223.59 L50.28,223.06 L49.85,222.47 L49.42,221.82 L48.98,221.10 L48.54,220.33 L48.10,219.49 L47.66,218.59 L47.22,217.63 L46.78,216.62 L46.33,215.55 L45.45,213.26 L44.56,210.78 L43.67,208.12 L42.78,205.33 L41.89,202.42 L38.33,190.39 L36.99,186.04 L36.10,183.28 L35.65,181.95 L34.76,179.42 L34.31,178.22 L33.41,175.95 L32.96,174.91 L32.52,173.91 L32.07,172.97 L31.62,172.08 L31.16,171.26 L30.71,170.49 L30.26,169.79 L29.79,169.14 L29.34,168.58 L28.88,168.08 L28.41,167.64 L28.19,167.46 L28.77,168.15 L29.22,168.75 L29.67,169.41 L30.13,170.14 L30.58,170.92 L31.02,171.75 L31.47,172.65 L31.92,173.59 L32.37,174.59 L33.26,176.75 L34.15,179.11 L34.60,180.35 L35.49,182.97 L36.83,187.16 L38.17,191.59 L41.29,202.14 L42.18,205.05 L43.07,207.85 L43.96,210.51 L44.85,213.00 L45.73,215.29 L46.18,216.37 L46.62,217.38 L47.06,218.34 L47.51,219.25 L47.95,220.09 L48.39,220.88 L48.83,221.60 L49.27,222.26 L49.71,222.87 L50.15,223.40 L50.58,223.88 L51.01,224.29 L51.44,224.64 L51.86,224.93 L52.29,225.15 L52.70,225.32 L53.12,225.43 L53.53,225.48Z" fill="#0000ff" fill-rule="evenodd" stroke="none"/>
<path d="M25.00,165.88 L25.45,165.94 L25.89,166.06 L26.34,166.27 L26.78,166.54 L27.23,166.88 L27.67,167.29 L28.12,167.77 L28.56,168.30 L29.01,168.90 L29.45,169.55 L29.90,170.27 L30.35,171.04 L30.79,171.87 L31.24,172.76 L31.68,173.70 L32.13,174.70 L32.57,175.75 L33.02,176.85 L33.46,178.00 L33.91,179.20 L34.36,180.44 L34.80,181.73 L35.25,183.05 L35.69,184.42 L36.14,185.81 L36.58,187.24 L37.03,188.70 L37.47,190.17 L37.92,191.66 L38.37,193.17 L38.81,194.68 L39.26,196.20 L39.70,197.72 L40.15,199.23 L40.59,200.73 L41.04,202.22 L41.48,203.68 L41.93,205.13 L42.37,206.54 L42.82,207.93 L43.27,209.28 L43.71,210.59 L44.16,211.86 L44.60,213.09 L45.05,214.26 L45.49,215.39 L45.94,216.47 L46.38,217.49 L46.83,218.46 L47.27,219.37 L47.72,220.22 L48.17,221.01 L48.61,221.74 L49.06,222.41 L49.50,223.02 L49.95,223.57 L50.39,224.06 L50.84,224.49 L51.28,224.85 L51.73,225.15 L52.18,225.39 L52.62,225.57 L53.07,225.68 L53.51,225.74 L53.96,225.73 L54.40,225.67 L54.85,225.54 L55.29,225.36 L55.74,225.12 L56.19,224.82 L56.63,224.46 L57.08,224.04 L57.52,223.57 L57.97,223.05 L58.41,222.47 L58.86,221.84 L59.30,221.16 L59.75,220.42 L60.19,219.64 L60.64,218.81 L61.09,217.93 L61.53,217.01 L61.98,216.05 L62.42,215.04 L62.87,214.00 L63.31,212.92 L63.76,211.81 L64.20,210.67 L64.65,209.50 L65.09,208.31 L65.54,207.10 L65.99,205.87 L66.43,204.63 L66.88,203.37 L67.32,202.12 L67.77,200.85 L68.21,199.59 L68.66,198.33 L69.10,197.08 L69.55,195.85 L70.00,194.62 L70.44,193.42 L70.89,192.24 L71.33,191.09 L71.78,189.96 L72.22,188.87 L72.67,187.81 L73.11,186.78 L73.56,185.80 L74.00,184.86 L74.45,183.96 L74.90,183.11 L75.34,182.30 L75.79,181.54 L76.23,180.84 L76.68,180.18 L77.12,179.58 L77.57,179.03 L78.01,178.54 L78.46,178.10 L78.91,177.72 L79.35,177.40 L79.80,177.13 L80.24,176.92 L80.69,176.76 L81.13,176.66 L81.58,176.62 L82.02,176.64 L82.47,176.71 L82.91,176.84 L83.36,177.03 L83.81,177.27 L84.25,177.57 L84.70,177.92 L85.14,178.32 L85.59,178.78 L86.03,179.29 L86.48,179.84 L86.92,180.45 L87.37,181.10 L87.82,181.80 L88.26,182.54 L88.71,183.32 L89.15,184.15 L89.60,185.01 L90.04,185.90 L90.49,186.83 L90.93,187.79 L91.38,188.78 L91.83,189.79 L92.27,190.82 L92.72,191.88 L93.16,192.94 L93.61,194.02 L94.05,195.11 L94.50,196.21 L94.94,197.31 L95.39,198.40 L95.83,199.49 L96.28,200.58 L96.73,201.65 L97.17,202.71 L97.62,203.75 L98.06,204.78 L98.51,205.78 L98.95,206.75 L99.40,207.69 L99.84,208.61 L100.29,209.49 L100.73,210.33 L101.18,211.14 L101.63,211.91 L102.07,212.63 L102.52,213.32 L102.96,213.96 L103.41,214.55 L103.85,215.10 L104.30,215.60 L104.74,216.06 L105.19,216.46 L105.64,216.82 L106.08,217.13 L106.53,217.38 L106.97,217.59 L107.42,217.74 L107.86,217.85 L108.31,217.90 L108.75,217.91 L109.20,217.86 L109.64,217.77 L110.09,217.63 L110.54,217.44 L110.98,217.20 L111.43,216.91 L111.87,216.57 L112.32,216.19 L112.76,215.76 L113.21,215.29 L113.65,214.78 L114.10,214.22 L114.55,213.63 L114.99,212.99 L115.44,212.32 L115.88,211.61 L116.33,210.87 L116.77,210.09 L117.22,209.29 L117.66,208.46 L118.11,207.60 L118.56,206.73 L119.00,205.83 L119.45,204.91 L119.89,203.99 L120.34,203.05 L120.78,202.10 L121.23,201.15 L121.67,200.19 L122.12,199.24 L122.56,198.29 L123.01,197.35 L123.46,196.41 L123.90,195.49 L124.35,194.59 L124.79,193.70 L125.24,192.84 L125.68,192.00 L126.13,191.18 L126.57,190.39 L127.02,189.63 L127.47,188.91 L127.91,188.22 L128.36,187.56 L128.80,186.95 L129.25,186.37 L129.69,185.83 L130.14,185.34 L130.58,184.89 L131.03,184.48 L131.47,184.11 L131.92,183.79 L132.37,183.52 L132.81,183.29 L133.26,183.11 L133.70,182.98 L134.15,182.89 L134.59,182.85 L135.04,182.85 L135.48,182.90 L135.93,183.00 L136.38,183.14 L136.82,183.33 L137.27,183.56 L137.71,183.83 L138.16,184.15 L138.60,184.50 L139.05,184.89 L139.49,185.33 L139.94,185.79 L140.38,186.30 L140.83,186.83 L141.28,187.40 L141.72,188.00 L142.17,188.63 L142.61,189.28 L143.06,189.96 L143.50,190.65 L143.95,191.37 L144.39,192.11 L144.84,192.86 L145.28,193.62 L145.73,194.39 L146.18,195.18 L146.62,195.96 L147.07,196.76 L147.51,197.55 L147.96,198.34 L148.40,199.13 L148.85,199.91 L149.29,200.69 L149.74,201.45 L150.19,202.20 L150.63,202.94 L151.08,203.66 L151.52,204.37 L151.97,205.05 L152.41,205.71 L152.86,206.35 L153.30,206.96 L153.75,207.55 L154.19,208.11 L154.64,208.64 L155.09,209.14 L155.53,209.61 L155.98,210.04 L156.42,210.45 L156.87,210.82 L157.31,211.15 L157.76,211.46 L158.20,211.72 L158.65,211.95 L159.10,212.14 L159.54,212.30 L159.99,212.42 L160.43,212.51 L160.88,212.55 L161.32,212.57 L161.77,212.54 L162.21,212.48 L162.66,212.38 L163.10,212.25 L163.55,212.08 L164.00,211.87 L164.44,211.63 L164.89,211.36 L165.33,211.05 L165.78,210.71 L166.22,210.34 L166.67,209.94 L167.11,209.50 L167.56,209.04 L168.01,208.56 L168.45,208.04 L168.90,207.51 L169.34,206.95 L169.79,206.37 L170.23,205.76 L170.68,205.15 L171.12,204.51 L171.57,203.86 L172.02,203.20 L172.46,202.53 L172.91,201.85 L173.35,201.16 L173.80,200.47 L174.24,199.78 L174.69,199.09 L175.13,198.40 L175.58,197.72 L176.02,197.04 L176.47,196.37 L176.92,195.72 L177.36,195.07 L177.81,194.44 L178.25,193.83 L178.70,193.23 L179.14,192.66 L179.59,192.11 L180.03,191.58 L180.48,191.07 L180.93,190.59 L181.37,190.14 L181.82,189.72 L182.26,189.33 L182.71,188.97 L183.15,188.64 L183.60,188.35 L184.04,188.09 L184.49,187.86 L184.93,187.66 L185.38,187.51 L185.83,187.38 L186.27,187.29 L186.72,187.24 L187.16,187.22 L187.61,187.24 L188.05,187.29 L188.50,187.38 L188.94,187.49 L189.39,187.64 L189.84,187.83 L190.28,188.04 L190.73,188.29 L191.17,188.56 L191.62,188.86 L192.06,189.19 L192.51,189.55 L192.95,189.94 L193.40,190.35 L193.84,190.78 L194.29,191.23 L194.74,191.71 L195.18,192.20 L195.63,192.72 L196.07,193.25 L196.52,193.79 L196.96,194.35 L197.41,194.92 L197.85,195.50 L198.30,196.09 L198.75,196.69 L199.19,197.29 L199.64,197.89 L200.08,198.50 L200.53,199.10 L200.97,199.71 L201.42,200.31 L201.86,200.90 L202.31,201.48 L202.75,202.06 L203.20,202.62" fill="none" stroke="#ff0000" stroke-width="0.8" stroke-linejoin="round"/>
</g>
<path d="M25.00,157.10 V241.80" fill="none" stroke="#e2e2e2" stroke-width="1.3"/>
<path d="M24.50,241.30 H203.60" fill="none" stroke="#d5d5d5" stroke-width="1"/>
<path d="M25.00,241.30 v-2 M60.64,241.30 v-2 M96.28,241.30 v-2 M131.92,241.30 v-2 M167.56,241.30 v-2 M203.20,241.30 v-2 M25.00,157.10 h2 M25.00,178.15 h2 M25.00,199.20 h2 M25.00,220.25 h2 M25.00,241.30 h2" fill="none" stroke="#d5d5d5" stroke-width="0.8"/>
<g font-family="Liberation Sans, Arial, Helvetica, sans-serif" font-size="7.3" fill="#2a2a2a" stroke="#2a2a2a" stroke-width="0.12">
<text transform="matrix(1 0.001 0 1 25.25 250.40)" text-anchor="middle">0</text>
<text transform="matrix(1 0.001 0 1 60.89 250.40)" text-anchor="middle">2</text>
<text transform="matrix(1 0.001 0 1 96.53 250.40)" text-anchor="middle">4</text>
<text transform="matrix(1 0.001 0 1 132.17 250.40)" text-anchor="middle">6</text>
<text transform="matrix(1 0.001 0 1 167.81 250.40)" text-anchor="middle">8</text>
<text transform="matrix(1 0.001 0 1 203.45 250.40)" text-anchor="middle">10</text>
<text transform="matrix(1 0.001 0 1 22.80 159.70)" text-anchor="end">2</text>
<text transform="matrix(1 0.001 0 1 22.80 180.75)" text-anchor="end">1</text>
<text transform="matrix(1 0.001 0 1 22.80 201.80)" text-anchor="end">0</text>
<text transform="matrix(1 0.001 0 1 22.80 222.85)" text-anchor="end">-1</text>
<text transform="matrix(1 0.001 0 1 22.80 243.90)" text-anchor="end">-2</text>
</g>
<text font-family="Liberation Sans, Arial, Helvetica, sans-serif" font-size="8" fill="#2a2a2a" stroke="#2a2a2a" stroke-width="0.1" transform="matrix(1 0.001 0 1 114.70 260.20)" text-anchor="middle">Time [s]</text>
<text font-family="Liberation Sans, Arial, Helvetica, sans-serif" font-size="8" fill="#2a2a2a" stroke="#2a2a2a" stroke-width="0.1" text-anchor="middle" transform="translate(13.90,199.20) rotate(-90)">Angle [rad]</text>
<text font-family="Liberation Sans, Arial, Helvetica, sans-serif" font-size="8" font-weight="bold" fill="#0c0c0c" stroke="#0c0c0c" stroke-width="0.12" transform="matrix(1 0.001 0 1 114.10 155.00)" text-anchor="middle">Theta Comparison (RMSE = 0.02 rad)</text>
<text font-family="Liberation Sans, Arial, Helvetica, sans-serif" font-size="15" fill="#0c0c0c" transform="matrix(1.04 0.001 0 1 0.40 145.50)">(D)</text>
<rect x="132.7" y="158.70" width="69.10" height="16.70" fill="#ffffff" stroke="#d6d6d6" stroke-width="0.8"/>
<path d="M133.6,163.35 h5.8" stroke="#0000ff" stroke-width="0.65"/>
<path d="M133.6,171.35 h5.8" stroke="#ff0000" stroke-width="0.65"/>
<text font-family="Liberation Sans, Arial, Helvetica, sans-serif" font-size="6.6" fill="#2a2a2a" stroke="#2a2a2a" stroke-width="0.14" transform="matrix(1 0.001 0 1 139.80 165.75)">Computer Simulation</text>
<text font-family="Liberation Sans, Arial, Helvetica, sans-serif" font-size="6.6" fill="#2a2a2a" stroke="#2a2a2a" stroke-width="0.14" transform="matrix(1 0.001 0 1 139.80 173.75)">Computer Vision</text>
<clipPath id="cE"><rect x="262.90" y="156.50" width="179.60" height="84.90"/></clipPath>
<g clip-path="url(#cE)">
<path d="M263.50,157.64 L265.27,157.67 L266.13,157.73 L266.56,157.78 L266.98,157.85 L267.39,157.96 L267.80,158.11 L268.20,158.30 L268.61,158.55 L269.01,158.88 L269.20,159.06 L269.11,158.96 L268.68,158.55 L268.26,158.24 L267.84,157.99 L267.42,157.81 L267.00,157.68 L266.58,157.58 L266.15,157.52 L265.28,157.47 L263.50,157.46 L263.50,157.21Z M288.15,239.07 L288.65,239.56 L289.10,239.93 L289.57,240.26 L290.09,240.54 L290.57,240.75 L291.06,240.91 L291.54,241.02 L292.02,241.08 L292.50,241.11 L292.98,241.09 L293.46,241.04 L293.95,240.94 L294.43,240.80 L294.87,240.63 L295.35,240.39 L295.83,240.10 L296.34,239.73 L296.81,239.31 L297.26,238.84 L297.72,238.27 L298.20,237.59 L298.65,236.87 L299.11,236.03 L299.57,235.06 L300.02,234.00 L300.47,232.82 L300.92,231.52 L301.37,230.10 L301.82,228.54 L302.27,226.86 L302.71,225.06 L303.16,223.12 L303.61,221.06 L304.06,218.90 L304.50,216.63 L305.40,211.84 L306.29,206.79 L308.07,196.47 L308.96,191.48 L309.41,189.08 L310.30,184.54 L310.75,182.42 L311.19,180.41 L311.63,178.52 L312.08,176.75 L312.52,175.11 L312.97,173.59 L313.41,172.20 L313.85,170.92 L314.29,169.77 L314.73,168.73 L315.17,167.80 L315.61,166.98 L316.04,166.25 L316.47,165.62 L316.90,165.07 L317.32,164.61 L317.74,164.22 L318.15,163.90 L318.56,163.65 L318.97,163.46 L319.36,163.32 L319.76,163.24 L320.15,163.20 L320.55,163.22 L320.94,163.28 L321.34,163.39 L321.74,163.56 L322.15,163.78 L322.56,164.06 L322.98,164.40 L323.40,164.80 L323.83,165.28 L324.26,165.83 L324.69,166.46 L325.13,167.17 L325.56,167.97 L326.00,168.85 L326.44,169.83 L326.88,170.90 L327.32,172.06 L327.77,173.33 L328.21,174.69 L328.65,176.15 L329.10,177.70 L329.54,179.34 L329.99,181.07 L330.88,184.78 L331.55,187.76 L331.04,185.39 L330.15,181.50 L329.70,179.67 L329.26,177.94 L328.81,176.30 L328.37,174.76 L327.92,173.32 L327.48,171.98 L327.03,170.75 L326.59,169.62 L326.15,168.59 L325.71,167.66 L325.27,166.82 L324.83,166.08 L324.39,165.42 L323.95,164.84 L323.52,164.34 L323.09,163.91 L322.66,163.55 L322.24,163.26 L321.81,163.03 L321.39,162.85 L320.98,162.73 L320.56,162.67 L320.15,162.65 L319.73,162.69 L319.32,162.78 L318.90,162.92 L318.48,163.12 L318.06,163.38 L317.63,163.71 L317.20,164.10 L316.77,164.57 L316.34,165.12 L315.90,165.76 L315.46,166.49 L315.02,167.32 L314.58,168.24 L314.14,169.28 L313.70,170.43 L313.25,171.69 L312.81,173.08 L312.36,174.58 L311.92,176.21 L311.47,177.96 L311.03,179.82 L310.58,181.81 L310.14,183.90 L309.69,186.09 L309.25,188.37 L308.36,193.17 L305.68,208.35 L304.79,213.25 L303.89,217.86 L303.45,220.02 L303.00,222.08 L302.56,224.03 L302.11,225.86 L301.66,227.56 L301.21,229.15 L300.77,230.61 L300.32,231.94 L299.87,233.16 L299.42,234.26 L298.97,235.24 L298.51,236.14 L298.06,236.92 L297.61,237.60 L297.15,238.22 L296.69,238.75 L296.24,239.19 L295.78,239.57 L295.30,239.91 L294.85,240.17 L294.38,240.38 L293.89,240.56 L293.43,240.69 L292.96,240.77 L292.49,240.81 L292.02,240.81 L291.56,240.78 L291.09,240.70 L290.62,240.58 L290.15,240.41 L289.68,240.19 L289.24,239.93 L288.75,239.58 L288.31,239.20 L287.95,238.83Z M343.89,231.66 L344.38,232.20 L344.83,232.61 L345.31,232.98 L345.79,233.28 L346.33,233.52 L346.83,233.67 L347.28,233.75 L347.79,233.76 L348.30,233.70 L348.85,233.54 L349.35,233.33 L349.79,233.07 L350.28,232.71 L350.78,232.26 L351.25,231.77 L351.71,231.19 L352.15,230.56 L352.61,229.83 L353.08,229.00 L353.53,228.10 L353.98,227.12 L354.43,226.05 L354.88,224.88 L355.33,223.64 L355.78,222.29 L356.23,220.87 L356.68,219.36 L357.12,217.77 L358.02,214.37 L358.91,210.72 L359.80,206.89 L362.03,197.06 L362.93,193.25 L363.37,191.41 L364.26,187.91 L364.71,186.27 L365.15,184.70 L365.59,183.21 L366.04,181.80 L366.48,180.48 L366.92,179.26 L367.37,178.12 L367.81,177.07 L368.25,176.11 L368.69,175.24 L369.12,174.45 L369.56,173.75 L369.99,173.14 L370.42,172.61 L370.84,172.15 L371.26,171.78 L371.67,171.47 L372.07,171.24 L372.46,171.07 L372.85,170.96 L373.24,170.91 L373.62,170.92 L374.01,170.98 L374.40,171.10 L374.80,171.28 L375.21,171.52 L375.63,171.83 L376.05,172.20 L376.47,172.63 L376.90,173.13 L377.33,173.69 L377.77,174.33 L378.20,175.03 L378.64,175.80 L379.08,176.63 L379.52,177.53 L379.96,178.49 L380.41,179.52 L380.85,180.61 L381.29,181.76 L382.18,184.23 L383.07,186.90 L383.82,189.28 L382.78,185.85 L381.89,183.12 L381.44,181.83 L381.00,180.60 L380.56,179.44 L380.11,178.34 L379.67,177.31 L379.23,176.34 L378.78,175.45 L378.34,174.63 L377.90,173.89 L377.46,173.21 L377.02,172.60 L376.59,172.07 L376.15,171.60 L375.72,171.21 L375.30,170.88 L374.88,170.62 L374.46,170.43 L374.05,170.30 L373.64,170.23 L373.23,170.23 L372.82,170.28 L372.41,170.40 L372.00,170.58 L371.58,170.83 L371.15,171.15 L370.72,171.55 L370.29,172.02 L369.86,172.56 L369.42,173.19 L368.98,173.90 L368.54,174.69 L368.10,175.57 L367.66,176.53 L367.21,177.57 L366.77,178.71 L366.33,179.93 L365.88,181.23 L365.44,182.62 L364.99,184.09 L364.55,185.64 L363.66,188.94 L363.21,190.68 L362.32,194.32 L359.64,205.82 L358.75,209.58 L357.86,213.18 L356.96,216.56 L356.52,218.14 L356.07,219.66 L355.62,221.09 L355.18,222.44 L354.73,223.72 L354.28,224.90 L353.83,226.00 L353.38,227.02 L352.93,227.96 L352.48,228.81 L352.03,229.59 L351.57,230.28 L351.13,230.89 L350.67,231.43 L350.21,231.90 L349.73,232.32 L349.26,232.65 L348.81,232.90 L348.34,233.10 L347.86,233.23 L347.34,233.30 L346.86,233.29 L346.42,233.22 L345.93,233.07 L345.43,232.85 L344.96,232.56 L344.50,232.20 L344.05,231.79 L343.67,231.38Z M396.07,223.41 L396.55,223.98 L396.99,224.45 L397.46,224.87 L397.93,225.24 L398.45,225.56 L398.90,225.77 L399.39,225.95 L399.89,226.05 L400.45,226.09 L400.96,226.05 L401.46,225.93 L401.95,225.76 L402.44,225.51 L402.91,225.20 L403.36,224.85 L403.86,224.39 L404.32,223.89 L404.78,223.32 L405.23,222.71 L405.69,222.00 L406.15,221.24 L406.60,220.42 L407.05,219.54 L407.50,218.59 L407.95,217.59 L408.40,216.52 L408.85,215.40 L409.74,213.02 L410.64,210.44 L411.53,207.72 L412.42,204.90 L414.65,197.74 L415.99,193.62 L416.88,191.05 L417.32,189.83 L418.21,187.54 L418.65,186.47 L419.09,185.47 L419.54,184.53 L419.98,183.65 L420.42,182.83 L420.86,182.08 L421.29,181.39 L421.73,180.77 L422.16,180.21 L422.59,179.72 L423.01,179.29 L423.43,178.93 L423.85,178.62 L424.26,178.38 L424.66,178.20 L425.06,178.07 L425.45,177.99 L425.84,177.97 L426.24,177.99 L426.63,178.07 L427.03,178.19 L427.44,178.37 L427.85,178.60 L428.27,178.88 L428.69,179.22 L429.12,179.61 L429.55,180.05 L429.98,180.54 L430.41,181.08 L430.85,181.68 L431.29,182.32 L431.73,183.01 L432.17,183.75 L432.61,184.54 L433.05,185.37 L433.93,187.15 L434.82,189.09 L435.71,191.16 L436.89,194.07 L435.86,191.37 L434.97,189.15 L434.52,188.08 L433.64,186.07 L433.19,185.13 L432.75,184.24 L432.31,183.39 L431.86,182.59 L431.42,181.84 L430.98,181.15 L430.54,180.51 L430.10,179.92 L429.66,179.39 L429.23,178.92 L428.79,178.50 L428.36,178.14 L427.93,177.83 L427.51,177.59 L427.09,177.40 L426.67,177.26 L426.26,177.18 L425.84,177.15 L425.43,177.18 L425.02,177.26 L424.60,177.40 L424.18,177.60 L423.76,177.87 L423.33,178.19 L422.90,178.57 L422.47,179.02 L422.03,179.53 L421.59,180.11 L421.16,180.75 L420.71,181.45 L420.27,182.22 L419.83,183.04 L419.39,183.93 L418.94,184.88 L418.50,185.88 L417.61,188.05 L416.72,190.41 L415.83,192.94 L414.94,195.61 L411.82,205.33 L410.93,208.04 L410.03,210.64 L409.59,211.88 L408.69,214.24 L407.80,216.41 L407.35,217.42 L406.90,218.37 L406.45,219.26 L406.00,220.09 L405.55,220.87 L405.10,221.58 L404.65,222.24 L404.20,222.84 L403.73,223.38 L403.29,223.85 L402.83,224.26 L402.36,224.62 L401.90,224.91 L401.40,225.16 L400.93,225.33 L400.45,225.43 L400.00,225.48 L399.52,225.46 L399.04,225.38 L398.56,225.23 L398.09,225.02 L397.59,224.74 L397.13,224.40 L396.67,224.00 L396.22,223.55 L395.87,223.15Z M442.29,205.69 L440.96,202.31 L437.84,194.16 L436.94,191.92 L436.05,189.78 L435.15,187.75 L434.25,185.86 L433.35,184.13 L432.90,183.32 L432.41,182.51 L432.76,183.15 L433.21,184.00 L434.11,185.85 L435.00,187.88 L435.90,190.05 L437.24,193.52 L440.36,202.05 L441.25,204.42 L441.81,205.88Z M398.43,224.55 L398.02,224.23 L397.60,223.85 L397.17,223.40 L396.74,222.89 L396.31,222.31 L395.87,221.67 L395.44,220.96 L395.00,220.19 L394.56,219.35 L394.12,218.44 L393.67,217.47 L393.23,216.44 L392.79,215.35 L392.35,214.20 L391.46,211.73 L391.01,210.41 L390.12,207.65 L388.79,203.24 L386.11,194.00 L385.22,190.97 L384.33,188.05 L383.88,186.64 L382.98,183.95 L382.09,181.46 L381.64,180.30 L381.19,179.20 L380.74,178.15 L380.29,177.17 L379.84,176.24 L379.38,175.38 L378.94,174.60 L378.71,174.23 L379.24,175.21 L379.69,176.12 L380.14,177.10 L380.59,178.14 L381.04,179.25 L381.49,180.42 L381.94,181.66 L382.83,184.30 L383.72,187.15 L384.62,190.16 L385.51,193.29 L388.18,202.84 L389.52,207.37 L390.41,210.19 L390.86,211.52 L391.75,214.03 L392.19,215.19 L392.63,216.29 L393.08,217.32 L393.52,218.29 L393.96,219.19 L394.41,220.03 L394.85,220.79 L395.29,221.49 L395.73,222.13 L396.16,222.69 L396.60,223.19 L397.03,223.63 L397.46,224.00 L397.89,224.31 L398.31,224.55 L398.76,224.75Z M365.38,181.09 L364.78,182.96 L364.33,184.46 L363.89,186.04 L363.44,187.70 L362.99,189.42 L362.87,189.92 L363.60,187.12 L364.05,185.49 L364.49,183.94 L364.94,182.47Z M346.63,232.73 L346.21,232.54 L345.80,232.29 L345.39,231.97 L344.97,231.58 L344.55,231.12 L344.12,230.58 L343.69,229.95 L343.26,229.24 L342.82,228.44 L342.38,227.56 L341.94,226.58 L341.50,225.50 L341.06,224.33 L340.61,223.06 L340.17,221.70 L339.73,220.24 L339.28,218.69 L338.84,217.05 L338.39,215.32 L337.50,211.62 L337.06,209.67 L336.17,205.59 L333.49,192.75 L332.60,188.57 L331.71,184.59 L331.26,182.69 L330.36,179.12 L329.92,177.47 L329.47,175.91 L329.02,174.43 L328.57,173.05 L328.13,171.78 L327.68,170.59 L327.22,169.48 L326.77,168.49 L326.32,167.58 L325.86,166.73 L325.41,166.01 L325.23,165.75 L325.72,166.56 L326.17,167.43 L326.62,168.38 L327.07,169.42 L327.52,170.57 L327.97,171.82 L328.42,173.16 L328.87,174.61 L329.31,176.16 L329.76,177.81 L330.21,179.55 L330.65,181.38 L331.10,183.29 L331.99,187.34 L332.88,191.61 L335.56,204.80 L336.45,209.00 L336.90,211.01 L337.79,214.82 L338.23,216.59 L338.68,218.28 L339.12,219.86 L339.57,221.36 L340.01,222.75 L340.46,224.04 L340.90,225.23 L341.34,226.33 L341.79,227.32 L342.23,228.23 L342.67,229.04 L343.11,229.76 L343.54,230.39 L343.98,230.94 L344.41,231.42 L344.84,231.81 L345.26,232.14 L345.69,232.39 L346.10,232.58 L346.51,232.71Z M313.63,169.15 L313.05,170.64 L312.60,171.93 L312.15,173.35 L311.70,174.88 L311.26,176.54 L310.81,178.32 L310.36,180.22 L309.91,182.24 L309.47,184.37 L309.02,186.59 L308.13,191.33 L307.24,196.33 L305.17,208.27 L307.40,195.56 L308.29,190.64 L309.18,185.98 L309.63,183.79 L310.08,181.70 L310.52,179.71 L310.97,177.83 L311.42,176.08 L311.86,174.44 L312.31,172.93 L312.76,171.53 L313.21,170.25Z M292.94,240.24 L292.50,240.26 L292.09,240.23 L291.68,240.18 L291.27,240.08 L290.86,239.95 L290.45,239.77 L290.04,239.54 L289.62,239.26 L289.21,238.92 L288.79,238.50 L288.36,238.01 L287.94,237.42 L287.51,236.73 L287.07,235.93 L286.63,235.01 L286.20,233.96 L285.76,232.77 L285.31,231.43 L284.87,229.94 L284.43,228.29 L283.98,226.48 L283.54,224.50 L283.09,222.36 L282.65,220.07 L282.20,217.62 L281.76,215.03 L281.31,212.32 L280.42,206.58 L278.19,191.41 L277.30,185.52 L276.41,180.02 L275.96,177.45 L275.51,175.05 L275.07,172.79 L274.62,170.71 L274.17,168.79 L273.72,167.04 L273.27,165.48 L272.82,164.06 L272.37,162.84 L271.92,161.75 L271.46,160.81 L271.01,160.00 L270.54,159.31 L270.07,158.73 L269.60,158.26 L269.12,157.87 L268.63,157.57 L268.14,157.33 L267.66,157.15 L267.14,157.02 L266.67,156.94 L265.75,156.84 L264.85,156.80 L263.50,156.79 L263.50,156.94 L264.84,156.94 L265.74,156.97 L266.20,157.01 L266.66,157.07 L267.12,157.17 L267.62,157.33 L268.09,157.54 L268.56,157.81 L269.01,158.15 L269.50,158.61 L269.96,159.15 L270.41,159.80 L270.86,160.55 L271.32,161.47 L271.77,162.51 L272.22,163.71 L272.67,165.09 L273.12,166.61 L273.56,168.33 L274.01,170.21 L274.46,172.27 L274.91,174.49 L275.35,176.88 L275.80,179.42 L276.69,184.89 L277.58,190.76 L279.81,205.95 L280.70,211.72 L281.15,214.45 L281.60,217.05 L282.04,219.52 L282.49,221.84 L282.93,224.00 L283.38,226.00 L283.82,227.84 L284.27,229.52 L284.71,231.04 L285.15,232.41 L285.60,233.63 L286.04,234.72 L286.48,235.67 L286.92,236.50 L287.36,237.22 L287.79,237.84 L288.22,238.37 L288.65,238.81 L289.08,239.18 L289.51,239.49 L289.93,239.74 L290.36,239.93 L290.78,240.08 L291.21,240.19 L291.63,240.26 L292.05,240.29 L292.48,240.29 L292.90,240.25Z" fill="#0000ff" fill-rule="evenodd" stroke="none"/>
<path d="M263.50,157.20 L263.95,157.20 L264.39,157.20 L264.84,157.20 L265.28,157.21 L265.73,157.23 L266.18,157.26 L266.62,157.33 L267.07,157.43 L267.51,157.57 L267.96,157.76 L268.41,158.02 L268.85,158.35 L269.30,158.78 L269.74,159.30 L270.19,159.93 L270.64,160.68 L271.08,161.57 L271.53,162.61 L271.97,163.80 L272.42,165.16 L272.87,166.68 L273.31,168.39 L273.76,170.26 L274.20,172.32 L274.65,174.54 L275.10,176.92 L275.54,179.46 L275.99,182.14 L276.43,184.93 L276.88,187.83 L277.33,190.80 L277.77,193.83 L278.22,196.89 L278.66,199.95 L279.11,202.99 L279.56,205.99 L280.00,208.92 L280.45,211.76 L280.89,214.49 L281.34,217.10 L281.79,219.57 L282.23,221.89 L282.68,224.05 L283.12,226.06 L283.57,227.91 L284.02,229.59 L284.46,231.12 L284.91,232.49 L285.35,233.73 L285.80,234.82 L286.25,235.78 L286.69,236.63 L287.14,237.36 L287.58,238.00 L288.03,238.54 L288.48,239.00 L288.92,239.39 L289.37,239.71 L289.81,239.97 L290.26,240.17 L290.71,240.33 L291.15,240.45 L291.60,240.52 L292.04,240.55 L292.49,240.55 L292.94,240.51 L293.38,240.43 L293.83,240.31 L294.27,240.15 L294.72,239.94 L295.17,239.69 L295.61,239.37 L296.06,239.00 L296.50,238.56 L296.95,238.05 L297.40,237.46 L297.84,236.78 L298.29,236.01 L298.73,235.14 L299.18,234.16 L299.63,233.07 L300.07,231.86 L300.52,230.53 L300.96,229.08 L301.41,227.50 L301.86,225.80 L302.30,223.97 L302.75,222.03 L303.19,219.97 L303.64,217.80 L304.09,215.54 L304.53,213.20 L304.98,210.78 L305.42,208.31 L305.87,205.79 L306.32,203.24 L306.76,200.69 L307.21,198.14 L307.65,195.61 L308.10,193.12 L308.55,190.69 L308.99,188.32 L309.44,186.04 L309.88,183.84 L310.33,181.75 L310.78,179.77 L311.22,177.90 L311.67,176.14 L312.11,174.51 L312.56,173.00 L313.01,171.61 L313.45,170.34 L313.90,169.18 L314.34,168.14 L314.79,167.20 L315.24,166.36 L315.68,165.62 L316.13,164.97 L316.57,164.40 L317.02,163.92 L317.47,163.51 L317.91,163.17 L318.36,162.89 L318.80,162.68 L319.25,162.52 L319.70,162.43 L320.14,162.39 L320.59,162.41 L321.03,162.48 L321.48,162.61 L321.93,162.79 L322.37,163.04 L322.82,163.35 L323.26,163.72 L323.71,164.16 L324.16,164.67 L324.60,165.27 L325.05,165.94 L325.49,166.70 L325.94,167.54 L326.39,168.49 L326.83,169.52 L327.28,170.66 L327.72,171.90 L328.17,173.24 L328.62,174.68 L329.06,176.23 L329.51,177.87 L329.95,179.61 L330.40,181.44 L330.85,183.35 L331.29,185.34 L331.74,187.39 L332.18,189.50 L332.63,191.66 L333.08,193.85 L333.52,196.06 L333.97,198.28 L334.41,200.49 L334.86,202.69 L335.31,204.86 L335.75,206.98 L336.20,209.06 L336.64,211.07 L337.09,213.01 L337.54,214.88 L337.98,216.66 L338.43,218.34 L338.87,219.94 L339.32,221.43 L339.77,222.83 L340.21,224.13 L340.66,225.33 L341.10,226.43 L341.55,227.43 L342.00,228.34 L342.44,229.17 L342.89,229.90 L343.33,230.55 L343.78,231.11 L344.23,231.60 L344.67,232.01 L345.12,232.35 L345.56,232.62 L346.01,232.83 L346.46,232.96 L346.90,233.03 L347.35,233.04 L347.79,232.98 L348.24,232.86 L348.69,232.67 L349.13,232.42 L349.58,232.11 L350.02,231.72 L350.47,231.26 L350.92,230.73 L351.36,230.13 L351.81,229.45 L352.25,228.68 L352.70,227.84 L353.15,226.92 L353.59,225.91 L354.04,224.81 L354.48,223.63 L354.93,222.36 L355.38,221.01 L355.82,219.58 L356.27,218.07 L356.71,216.49 L357.16,214.83 L357.61,213.12 L358.05,211.34 L358.50,209.52 L358.94,207.65 L359.39,205.76 L359.84,203.84 L360.28,201.91 L360.73,199.98 L361.17,198.05 L361.62,196.14 L362.07,194.26 L362.51,192.42 L362.96,190.62 L363.40,188.87 L363.85,187.18 L364.30,185.56 L364.74,184.02 L365.19,182.54 L365.63,181.15 L366.08,179.84 L366.53,178.62 L366.97,177.48 L367.42,176.42 L367.86,175.45 L368.31,174.57 L368.76,173.77 L369.20,173.05 L369.65,172.41 L370.09,171.85 L370.54,171.36 L370.99,170.95 L371.43,170.62 L371.88,170.35 L372.32,170.15 L372.77,170.03 L373.22,169.96 L373.66,169.97 L374.11,170.05 L374.55,170.19 L375.00,170.39 L375.45,170.67 L375.89,171.01 L376.34,171.42 L376.78,171.90 L377.23,172.44 L377.68,173.06 L378.12,173.75 L378.57,174.51 L379.01,175.33 L379.46,176.23 L379.91,177.20 L380.35,178.24 L380.80,179.34 L381.24,180.51 L381.69,181.74 L382.14,183.03 L382.58,184.38 L383.03,185.78 L383.47,187.22 L383.92,188.71 L384.37,190.23 L384.81,191.78 L385.26,193.36 L385.70,194.95 L386.15,196.55 L386.60,198.15 L387.04,199.75 L387.49,201.34 L387.93,202.91 L388.38,204.45 L388.83,205.97 L389.27,207.44 L389.72,208.88 L390.16,210.27 L390.61,211.61 L391.06,212.89 L391.50,214.12 L391.95,215.28 L392.39,216.39 L392.84,217.43 L393.29,218.40 L393.73,219.31 L394.18,220.15 L394.62,220.93 L395.07,221.64 L395.52,222.28 L395.96,222.86 L396.41,223.37 L396.85,223.82 L397.30,224.20 L397.75,224.53 L398.19,224.79 L398.64,224.98 L399.08,225.12 L399.53,225.20 L399.98,225.22 L400.42,225.18 L400.87,225.07 L401.31,224.91 L401.76,224.69 L402.21,224.41 L402.65,224.07 L403.10,223.67 L403.54,223.20 L403.99,222.68 L404.44,222.09 L404.88,221.45 L405.33,220.74 L405.77,219.97 L406.22,219.14 L406.67,218.25 L407.11,217.31 L407.56,216.31 L408.00,215.25 L408.45,214.15 L408.90,212.99 L409.34,211.79 L409.79,210.55 L410.23,209.27 L410.68,207.96 L411.13,206.62 L411.57,205.25 L412.02,203.87 L412.46,202.48 L412.91,201.08 L413.36,199.68 L413.80,198.28 L414.25,196.89 L414.69,195.53 L415.14,194.18 L415.59,192.86 L416.03,191.57 L416.48,190.32 L416.92,189.12 L417.37,187.95 L417.82,186.84 L418.26,185.78 L418.71,184.77 L419.15,183.82 L419.60,182.92 L420.05,182.09 L420.49,181.32 L420.94,180.60 L421.38,179.96 L421.83,179.37 L422.28,178.85 L422.72,178.38 L423.17,177.99 L423.61,177.65 L424.06,177.38 L424.51,177.16 L424.95,177.01 L425.40,176.92 L425.84,176.89 L426.29,176.92 L426.74,177.01 L427.18,177.15 L427.63,177.36 L428.07,177.62 L428.52,177.93 L428.97,178.31 L429.41,178.74 L429.86,179.22 L430.30,179.76 L430.75,180.36 L431.20,181.01 L431.64,181.71 L432.09,182.46 L432.53,183.27 L432.98,184.12 L433.43,185.02 L433.87,185.96 L434.32,186.95 L434.76,187.98 L435.21,189.05 L435.66,190.15 L436.10,191.28 L436.55,192.43 L436.99,193.61 L437.44,194.81 L437.89,196.02 L438.33,197.24 L438.78,198.47 L439.22,199.70 L439.67,200.92 L440.12,202.14 L440.56,203.34 L441.01,204.52 L441.45,205.68 L441.90,206.81" fill="none" stroke="#ff0000" stroke-width="0.8" stroke-linejoin="round"/>
</g>
<path d="M263.50,157.20 V241.30" fill="none" stroke="#e2e2e2" stroke-width="1.3"/>
<path d="M263.00,240.80 H442.30" fill="none" stroke="#d5d5d5" stroke-width="1"/>
<path d="M263.50,240.80 v-2 M299.18,240.80 v-2 M334.86,240.80 v-2 M370.54,240.80 v-2 M406.22,240.80 v-2 M441.90,240.80 v-2 M263.50,163.40 h2 M263.50,199.89 h2 M263.50,236.38 h2" fill="none" stroke="#d5d5d5" stroke-width="0.8"/>
<g font-family="Liberation Sans, Arial, Helvetica, sans-serif" font-size="7.3" fill="#2a2a2a" stroke="#2a2a2a" stroke-width="0.12">
<text transform="matrix(1 0.001 0 1 263.75 249.90)" text-anchor="middle">0</text>
<text transform="matrix(1 0.001 0 1 299.43 249.90)" text-anchor="middle">2</text>
<text transform="matrix(1 0.001 0 1 335.11 249.90)" text-anchor="middle">4</text>
<text transform="matrix(1 0.001 0 1 370.79 249.90)" text-anchor="middle">6</text>
<text transform="matrix(1 0.001 0 1 406.47 249.90)" text-anchor="middle">8</text>
<text transform="matrix(1 0.001 0 1 442.15 249.90)" text-anchor="middle">10</text>
<text transform="matrix(1 0.001 0 1 261.30 166.00)" text-anchor="end">50</text>
<text transform="matrix(1 0.001 0 1 261.30 202.49)" text-anchor="end">0</text>
<text transform="matrix(1 0.001 0 1 261.30 238.98)" text-anchor="end">-50</text>
</g>
<text font-family="Liberation Sans, Arial, Helvetica, sans-serif" font-size="8" fill="#2a2a2a" stroke="#2a2a2a" stroke-width="0.1" transform="matrix(1 0.001 0 1 353.30 259.70)" text-anchor="middle">Time [s]</text>
<text font-family="Liberation Sans, Arial, Helvetica, sans-serif" font-size="8" fill="#2a2a2a" stroke="#2a2a2a" stroke-width="0.1" text-anchor="middle" transform="translate(248.70,199.00) rotate(-90)">Position [mm]</text>
<text font-family="Liberation Sans, Arial, Helvetica, sans-serif" font-size="8" font-weight="bold" fill="#0c0c0c" stroke="#0c0c0c" stroke-width="0.12" transform="matrix(1 0.001 0 1 352.70 154.80)" text-anchor="middle">Position in X axis (RMSE = 1.15 mm)</text>
<text font-family="Liberation Sans, Arial, Helvetica, sans-serif" font-size="15" fill="#0c0c0c" transform="matrix(1.04 0.001 0 1 240.10 145.70)">(E)</text>
<clipPath id="cF"><rect x="501.60" y="156.30" width="179.30" height="85.70"/></clipPath>
<g clip-path="url(#cF)">
<path d="M502.87,238.48 L503.32,238.20 L503.40,238.13 L503.89,237.60 L504.28,237.01 L504.62,235.79 L505.06,233.96 L505.51,231.88 L505.95,229.58 L506.40,227.06 L506.89,223.97 L506.68,225.23 L506.24,227.60 L505.79,229.72 L505.35,231.58 L504.91,233.19 L504.47,234.53 L504.04,235.62 L503.61,236.48 L503.20,237.10 L502.82,237.51 L502.48,237.73 L502.11,237.81 L502.29,238.64 L502.74,238.54Z M505.68,233.57 L506.18,231.79 L506.62,229.90 L507.07,227.76 L507.52,225.38 L507.96,222.76 L508.41,219.90 L508.85,216.85 L509.30,213.60 L510.19,206.63 L511.08,199.21 L512.42,187.79 L513.31,180.43 L513.75,176.95 L514.20,173.65 L514.64,170.60 L515.09,167.82 L515.53,165.35 L515.97,163.23 L516.41,161.49 L516.84,160.16 L517.26,159.28 L517.58,158.89 L517.65,158.87 L517.61,158.81 L517.34,158.68 L517.06,158.80 L516.68,159.35 L516.25,160.36 L515.81,161.80 L515.37,163.64 L514.92,165.86 L514.48,168.43 L514.03,171.30 L513.59,174.44 L513.14,177.82 L512.70,181.38 L511.81,188.87 L510.03,204.25 L509.14,211.56 L508.69,215.03 L508.25,218.33 L507.80,221.46 L507.35,224.40 L506.91,227.14 L506.46,229.67 L506.02,231.98Z M527.61,210.35 L528.06,211.88 L528.51,213.20 L528.97,214.30 L529.43,215.18 L529.91,215.85 L530.42,216.31 L530.56,216.39 L531.00,216.55 L531.21,216.57 L531.66,216.49 L531.83,216.42 L532.27,216.12 L532.36,216.04 L532.84,215.45 L533.31,214.66 L533.77,213.66 L534.22,212.44 L534.67,211.03 L535.12,209.42 L535.56,207.61 L536.01,205.63 L536.46,203.48 L536.90,201.17 L537.35,198.72 L538.24,193.48 L540.47,179.47 L541.36,174.07 L541.80,171.54 L542.24,169.16 L542.69,166.97 L543.13,164.98 L543.57,163.24 L544.01,161.75 L544.45,160.55 L544.87,159.66 L545.26,159.09 L545.55,158.86 L545.74,158.84 L546.00,158.99 L546.37,159.45 L546.79,160.21 L547.22,161.25 L547.66,162.54 L548.10,164.05 L548.54,165.75 L548.98,167.61 L549.43,169.60 L550.32,173.86 L552.04,182.40 L550.48,174.50 L549.59,170.16 L549.14,168.13 L548.70,166.22 L548.25,164.47 L547.81,162.90 L547.37,161.55 L546.93,160.42 L546.50,159.56 L546.09,158.99 L545.73,158.71 L545.44,158.67 L545.11,158.85 L544.71,159.32 L544.29,160.11 L543.85,161.19 L543.41,162.55 L542.97,164.16 L542.53,166.01 L542.08,168.07 L541.64,170.31 L541.19,172.71 L540.30,177.87 L538.52,188.80 L537.63,194.13 L536.74,199.13 L536.29,201.45 L535.85,203.64 L535.40,205.67 L534.96,207.53 L534.51,209.22 L534.06,210.72 L533.61,212.04 L533.16,213.15 L532.71,214.06 L532.39,214.56 L532.13,214.99 L531.74,215.45 L531.42,215.67 L531.18,215.71 L530.90,215.60 L530.71,215.61 L530.59,215.59 L530.14,215.38 L530.07,215.33 L529.59,214.86 L529.13,214.18 L528.67,213.28 L528.22,212.16 L527.78,210.83 L527.42,209.59Z M557.54,199.68 L558.05,200.07 L558.18,200.13 L558.63,200.26 L558.80,200.28 L559.24,200.22 L559.39,200.17 L559.84,199.93 L559.93,199.87 L560.42,199.39 L560.53,199.24 L560.74,198.87 L561.18,197.89 L561.62,196.74 L562.06,195.42 L562.50,193.95 L562.95,192.34 L563.39,190.61 L563.84,188.76 L564.73,184.78 L567.40,172.08 L567.84,170.08 L568.29,168.17 L568.74,166.38 L569.18,164.73 L569.63,163.23 L570.08,161.90 L570.45,160.94 L570.37,161.13 L569.93,162.29 L569.47,163.65 L569.02,165.14 L568.58,166.78 L568.13,168.52 L567.24,172.30 L565.01,182.39 L564.12,186.27 L563.68,188.10 L563.23,189.84 L562.79,191.47 L562.35,192.98 L561.91,194.36 L561.47,195.59 L561.03,196.66 L560.60,197.57 L560.17,198.31 L559.76,198.85 L559.39,199.21 L559.06,199.39 L558.78,199.42 L558.49,199.34 L558.14,199.09 L557.75,198.64 L557.33,198.00 L556.91,197.16 L556.47,196.13 L556.03,194.93 L555.59,193.56 L555.15,192.03 L554.71,190.36 L554.26,188.55 L553.82,186.62 L553.37,184.60 L552.48,180.32 L550.70,171.52 L550.26,169.42 L549.81,167.42 L549.36,165.55 L548.92,163.83 L548.46,162.28 L548.02,160.97 L547.56,159.87 L547.05,158.94 L546.61,158.40 L546.49,158.30 L546.05,158.04 L545.92,157.99 L545.79,157.99 L545.35,158.03 L545.13,158.11 L544.68,158.46 L544.59,158.55 L544.15,159.20 L543.84,159.85 L544.30,159.01 L544.74,158.47 L544.82,158.41 L545.27,158.17 L545.34,158.15 L545.42,158.15 L545.87,158.20 L545.99,158.25 L546.44,158.60 L546.49,158.65 L546.94,159.28 L547.41,160.22 L547.86,161.38 L548.31,162.76 L548.76,164.33 L549.20,166.10 L549.65,168.02 L550.10,170.06 L550.54,172.19 L552.32,181.15 L553.21,185.52 L553.66,187.59 L554.10,189.56 L554.55,191.42 L554.99,193.14 L555.43,194.72 L555.88,196.14 L556.32,197.39 L556.76,198.46 L557.14,199.23Z M564.50,188.31 L565.39,184.55 L566.29,180.57 L567.62,174.47 L568.51,170.57 L568.95,168.73 L569.40,166.99 L569.84,165.37 L570.28,163.90 L570.72,162.58 L571.16,161.44 L571.59,160.49 L572.01,159.75 L572.41,159.23 L572.77,158.93 L573.05,158.83 L573.31,158.86 L573.52,158.98 L573.31,158.79 L572.96,158.66 L572.64,158.70 L572.27,158.92 L571.87,159.37 L571.44,160.05 L571.01,160.96 L570.57,162.07 L570.13,163.38 L569.68,164.86 L569.24,166.51 L568.79,168.29 L568.35,170.19 L567.46,174.26 L565.23,184.89 L564.79,186.92 L564.11,189.82Z M582.84,186.24 L583.30,187.17 L583.76,187.97 L584.26,188.68 L584.70,189.16 L585.21,189.55 L585.31,189.60 L585.75,189.77 L585.89,189.80 L586.34,189.82 L586.48,189.80 L586.93,189.66 L587.03,189.61 L587.48,189.31 L588.03,188.76 L588.50,188.12 L588.94,187.37 L589.41,186.44 L589.87,185.40 L590.31,184.25 L590.76,182.98 L591.21,181.62 L591.66,180.17 L592.55,177.07 L594.33,170.54 L595.22,167.41 L595.66,165.95 L596.11,164.58 L596.55,163.32 L596.99,162.19 L597.42,161.20 L597.85,160.38 L598.27,159.72 L598.67,159.25 L599.03,158.96 L599.35,158.84 L599.63,158.84 L599.95,158.96 L600.31,159.23 L600.71,159.68 L601.13,160.29 L601.56,161.04 L602.00,161.92 L602.44,162.92 L602.88,164.00 L603.32,165.16 L604.18,167.55 L603.47,165.55 L603.03,164.36 L602.59,163.24 L602.14,162.21 L601.70,161.29 L601.27,160.48 L600.83,159.81 L600.41,159.29 L600.00,158.92 L599.62,158.71 L599.27,158.65 L598.91,158.73 L598.53,158.95 L598.12,159.34 L597.70,159.90 L597.27,160.62 L596.83,161.50 L596.39,162.52 L595.95,163.66 L595.50,164.92 L595.06,166.27 L594.62,167.70 L593.73,170.73 L591.94,176.97 L591.05,179.91 L590.61,181.29 L590.16,182.57 L589.71,183.76 L589.26,184.86 L588.81,185.84 L588.36,186.68 L587.78,187.67 L587.36,188.23 L586.97,188.62 L586.61,188.86 L586.29,188.97 L585.99,188.95 L585.96,188.94 L585.45,188.93 L585.37,188.92 L584.87,188.72 L584.38,188.37 L583.94,187.90 L583.46,187.24 L583.00,186.47 L582.59,185.64Z M610.58,180.95 L611.10,181.21 L611.19,181.25 L611.64,181.35 L611.75,181.36 L612.19,181.35 L612.30,181.33 L612.83,181.16 L613.27,180.91 L613.47,180.77 L613.76,180.44 L614.19,179.85 L614.62,179.15 L615.06,178.35 L615.50,177.46 L615.95,176.50 L616.39,175.46 L617.28,173.22 L619.06,168.42 L619.95,166.07 L620.40,164.96 L620.84,163.89 L621.29,162.89 L621.74,161.97 L622.19,161.13 L622.64,160.38 L623.08,159.76 L622.96,159.91 L622.51,160.56 L622.04,161.33 L621.59,162.17 L621.14,163.07 L620.70,164.03 L619.80,166.13 L617.57,171.71 L616.68,173.86 L616.24,174.87 L615.80,175.83 L615.36,176.72 L614.92,177.53 L614.49,178.26 L614.06,178.90 L613.64,179.44 L613.22,179.87 L612.83,180.19 L612.46,180.39 L612.11,180.50 L611.77,180.51 L611.43,180.43 L611.07,180.25 L610.68,179.95 L610.27,179.53 L609.85,178.99 L609.42,178.33 L608.99,177.56 L608.55,176.69 L608.11,175.73 L607.67,174.68 L607.23,173.56 L606.34,171.16 L604.56,166.09 L603.67,163.68 L603.22,162.59 L602.76,161.56 L602.32,160.65 L601.86,159.85 L601.40,159.18 L600.92,158.64 L600.41,158.24 L600.31,158.19 L599.86,158.01 L599.71,157.99 L599.26,157.99 L599.11,158.02 L598.66,158.19 L598.56,158.25 L598.11,158.61 L597.94,158.80 L598.24,158.52 L598.69,158.26 L598.77,158.23 L599.21,158.13 L599.31,158.13 L599.75,158.21 L599.83,158.24 L600.33,158.51 L600.80,158.94 L601.26,159.52 L601.72,160.22 L602.16,161.04 L602.62,162.00 L603.07,163.05 L603.52,164.18 L604.41,166.62 L606.63,173.06 L607.52,175.44 L607.96,176.52 L608.41,177.53 L608.85,178.44 L609.28,179.25 L609.72,179.95 L610.15,180.54 L610.40,180.81Z M617.37,174.41 L618.36,172.03 L620.14,167.54 L621.03,165.40 L621.47,164.39 L621.91,163.44 L622.35,162.55 L622.79,161.75 L623.22,161.03 L623.65,160.40 L624.07,159.88 L624.48,159.46 L624.88,159.15 L625.25,158.95 L625.61,158.84 L625.95,158.82 L626.30,158.88 L626.65,159.03 L626.31,158.83 L625.92,158.69 L625.54,158.65 L625.16,158.71 L624.77,158.87 L624.36,159.15 L623.94,159.54 L623.51,160.04 L623.08,160.66 L622.64,161.38 L622.20,162.20 L621.76,163.11 L621.32,164.10 L620.88,165.15 L619.99,167.42 L618.21,172.22Z M634.43,171.70 L634.98,172.53 L635.43,173.16 L635.91,173.74 L636.36,174.21 L636.83,174.63 L637.37,174.99 L637.81,175.21 L638.33,175.37 L638.94,175.43 L639.46,175.36 L639.98,175.20 L640.42,174.97 L640.96,174.59 L641.43,174.16 L641.88,173.68 L642.35,173.08 L642.81,172.44 L643.26,171.75 L643.71,170.98 L644.61,169.35 L646.84,164.93 L647.72,163.26 L648.16,162.48 L648.60,161.76 L649.04,161.11 L649.47,160.52 L649.89,160.02 L650.31,159.60 L650.71,159.27 L651.10,159.04 L651.48,158.89 L651.84,158.82 L652.20,158.83 L652.56,158.91 L652.94,159.07 L653.34,159.32 L653.75,159.64 L654.17,160.04 L654.60,160.51 L654.94,160.92 L654.72,160.64 L654.28,160.14 L653.85,159.70 L653.43,159.33 L653.01,159.04 L652.59,158.83 L652.19,158.70 L651.80,158.65 L651.40,158.68 L651.00,158.78 L650.59,158.97 L650.18,159.25 L649.75,159.60 L649.32,160.04 L648.89,160.55 L648.45,161.14 L648.01,161.78 L647.57,162.48 L646.69,164.01 L644.02,168.95 L643.12,170.47 L642.67,171.18 L642.22,171.83 L641.67,172.58 L641.24,173.12 L640.82,173.57 L640.41,173.94 L640.01,174.23 L639.62,174.42 L639.25,174.54 L638.48,174.62 L637.99,174.60 L637.45,174.47 L636.97,174.26 L636.53,173.98 L636.04,173.59 L635.58,173.15 L635.13,172.64 L634.68,172.05Z M663.23,170.78 L663.73,170.90 L664.24,170.94 L664.75,170.91 L665.31,170.79 L665.67,170.65 L665.92,170.52 L666.34,170.23 L666.77,169.87 L667.20,169.46 L667.64,168.99 L668.08,168.47 L668.52,167.92 L668.96,167.32 L669.84,166.05 L672.07,162.72 L672.97,161.49 L673.42,160.92 L673.87,160.39 L674.32,159.90 L674.78,159.46 L675.24,159.08 L675.70,158.76 L676.17,158.50 L676.67,158.30 L677.16,158.18 L677.64,158.13 L678.12,158.16 L678.60,158.26 L679.05,158.41 L679.55,158.65 L679.99,158.92 L680.32,159.16 L680.52,158.83 L680.08,158.56 L679.60,158.32 L679.11,158.14 L678.56,158.01 L678.06,157.97 L677.55,157.99 L677.05,158.08 L676.56,158.24 L676.12,158.45 L675.60,158.75 L675.13,159.08 L674.67,159.46 L674.21,159.89 L673.75,160.36 L673.30,160.87 L672.84,161.41 L671.95,162.56 L669.72,165.60 L668.84,166.75 L667.96,167.79 L667.53,168.26 L667.10,168.68 L666.67,169.05 L666.25,169.37 L665.84,169.63 L665.44,169.83 L665.04,169.98 L664.65,170.07 L664.27,170.09 L663.89,170.07 L663.50,169.98 L663.11,169.83 L662.71,169.62 L662.30,169.34 L661.88,169.00 L661.46,168.60 L661.03,168.14 L660.59,167.62 L660.16,167.06 L659.72,166.46 L658.84,165.16 L657.05,162.41 L656.15,161.11 L655.69,160.50 L655.23,159.94 L654.77,159.43 L654.29,158.98 L653.81,158.61 L653.31,158.30 L652.79,158.09 L652.26,157.98 L651.73,157.98 L651.20,158.08 L650.69,158.29 L650.25,158.56 L650.10,158.68 L650.36,158.51 L650.80,158.30 L651.29,158.17 L651.79,158.13 L652.28,158.19 L652.77,158.34 L653.26,158.59 L653.73,158.91 L654.20,159.31 L654.66,159.78 L655.12,160.30 L655.58,160.89 L656.03,161.51 L656.92,162.86 L659.15,166.42 L660.03,167.73 L660.47,168.32 L660.91,168.88 L661.34,169.37 L661.78,169.81 L662.21,170.19 L662.63,170.50 L662.93,170.67Z M670.74,165.66 L672.62,163.07 L673.51,161.94 L673.94,161.42 L674.38,160.94 L674.81,160.49 L675.24,160.09 L675.66,159.75 L676.08,159.45 L676.49,159.21 L676.89,159.03 L677.29,158.90 L677.68,158.83 L678.06,158.82 L678.45,158.85 L678.84,158.95 L679.24,159.09 L679.39,159.16 L678.86,158.90 L678.45,158.75 L678.04,158.67 L677.63,158.65 L677.23,158.69 L676.82,158.80 L676.40,158.96 L675.98,159.19 L675.56,159.49 L675.13,159.85 L674.70,160.26 L674.26,160.73 L673.82,161.24 L673.38,161.80 L672.50,163.02Z M636.96,173.61 L636.54,173.17 L636.11,172.65 L635.68,172.05 L635.24,171.40 L634.81,170.68 L633.92,169.10 L633.04,167.39 L631.26,163.87 L630.36,162.22 L629.91,161.46 L629.44,160.74 L628.98,160.09 L628.51,159.51 L628.07,159.04 L627.59,158.62 L627.10,158.30 L626.59,158.08 L626.06,157.98 L625.51,157.99 L624.97,158.14 L624.44,158.42 L623.94,158.81 L623.62,159.12 L624.02,158.75 L624.50,158.43 L624.99,158.22 L625.50,158.13 L626.01,158.18 L626.51,158.35 L627.00,158.63 L627.50,159.04 L627.96,159.52 L628.42,160.07 L628.86,160.69 L629.32,161.40 L629.77,162.15 L630.66,163.78 L632.89,168.08 L633.77,169.68 L634.22,170.42 L634.66,171.11 L635.09,171.74 L635.53,172.30 L635.96,172.79 L636.39,173.21 L636.82,173.55 L637.07,173.71Z M623.53,159.21 L623.42,159.33 L623.17,159.64Z M584.48,187.53 L584.06,186.79 L583.62,185.90 L583.18,184.87 L582.74,183.72 L582.30,182.46 L581.86,181.09 L581.42,179.63 L580.53,176.51 L578.75,169.92 L577.85,166.75 L577.41,165.27 L576.96,163.86 L576.51,162.59 L576.06,161.44 L575.61,160.43 L575.12,159.55 L574.68,158.90 L574.19,158.40 L574.09,158.32 L573.65,158.07 L573.48,158.02 L573.04,157.97 L572.85,158.00 L572.40,158.16 L572.28,158.24 L571.83,158.61 L571.61,158.88 L571.97,158.50 L572.41,158.23 L572.52,158.19 L572.97,158.14 L573.09,158.15 L573.53,158.32 L573.61,158.37 L574.05,158.75 L574.54,159.37 L575.01,160.19 L575.46,161.15 L575.91,162.27 L576.36,163.52 L576.81,164.89 L577.25,166.36 L578.14,169.52 L579.48,174.45 L580.37,177.65 L580.81,179.17 L581.26,180.61 L581.70,181.96 L582.14,183.21 L582.59,184.34 L583.03,185.35 L583.46,186.23 L583.90,186.97 L584.33,187.56 L584.74,187.99 L584.88,188.09Z M543.80,159.92 L543.65,160.24 L543.48,160.72Z M529.75,213.96 L529.31,212.91 L528.87,211.63 L528.43,210.13 L527.99,208.41 L527.55,206.48 L527.11,204.35 L526.66,202.04 L526.22,199.56 L525.77,196.92 L525.33,194.16 L524.44,188.32 L522.66,176.30 L522.21,173.42 L521.77,170.69 L521.32,168.12 L520.87,165.77 L520.43,163.68 L519.98,161.88 L519.53,160.39 L519.07,159.26 L518.59,158.48 L518.47,158.36 L518.02,158.05 L517.86,157.98 L517.68,157.99 L517.24,158.10 L517.11,158.15 L516.99,158.26 L517.23,158.15 L517.34,158.13 L517.45,158.16 L517.90,158.37 L518.00,158.45 L518.47,159.12 L518.92,160.16 L519.37,161.54 L519.82,163.27 L520.26,165.28 L520.71,167.56 L521.16,170.06 L521.60,172.73 L522.49,178.46 L524.27,190.32 L525.16,195.92 L525.61,198.54 L526.05,201.02 L526.50,203.33 L526.94,205.46 L527.39,207.40 L527.83,209.14 L528.27,210.67 L528.71,211.98 L529.15,213.07 L529.58,213.93 L530.01,214.55 L530.11,214.65Z" fill="#0000ff" fill-rule="evenodd" stroke="none"/>
<path d="M502.20,241.34 L502.65,241.13 L503.09,240.63 L503.54,239.85 L503.98,238.78 L504.43,237.45 L504.87,235.85 L505.32,234.01 L505.76,231.94 L506.21,229.63 L506.65,227.10 L507.10,224.36 L507.54,221.42 L507.99,218.29 L508.43,214.99 L508.88,211.53 L509.32,207.93 L509.77,204.22 L510.21,200.42 L510.66,196.57 L511.10,192.70 L511.55,188.84 L512.00,185.04 L512.44,181.34 L512.89,177.78 L513.33,174.41 L513.78,171.26 L514.22,168.39 L514.67,165.82 L515.11,163.59 L515.56,161.73 L516.00,160.27 L516.45,159.22 L516.89,158.59 L517.34,158.39 L517.78,158.61 L518.23,159.23 L518.67,160.24 L519.12,161.62 L519.56,163.33 L520.01,165.34 L520.46,167.61 L520.90,170.10 L521.35,172.78 L521.79,175.59 L522.24,178.50 L522.68,181.47 L523.13,184.46 L523.57,187.43 L524.02,190.36 L524.46,193.21 L524.91,195.96 L525.35,198.59 L525.80,201.06 L526.24,203.38 L526.69,205.52 L527.13,207.46 L527.58,209.21 L528.02,210.75 L528.47,212.07 L528.91,213.18 L529.36,214.06 L529.81,214.72 L530.25,215.15 L530.70,215.35 L531.14,215.33 L531.59,215.08 L532.03,214.62 L532.48,213.94 L532.92,213.05 L533.37,211.95 L533.81,210.65 L534.26,209.15 L534.70,207.47 L535.15,205.61 L535.59,203.58 L536.04,201.40 L536.48,199.08 L536.93,196.64 L537.37,194.09 L537.82,191.45 L538.27,188.76 L538.71,186.02 L539.16,183.27 L539.60,180.53 L540.05,177.83 L540.49,175.20 L540.94,172.67 L541.38,170.26 L541.83,168.02 L542.27,165.95 L542.72,164.10 L543.16,162.47 L543.61,161.10 L544.05,160.00 L544.50,159.17 L544.94,158.64 L545.39,158.40 L545.83,158.46 L546.28,158.80 L546.73,159.43 L547.17,160.32 L547.62,161.46 L548.06,162.83 L548.51,164.40 L548.95,166.16 L549.40,168.07 L549.84,170.11 L550.29,172.24 L550.73,174.45 L551.18,176.69 L551.62,178.96 L552.07,181.20 L552.51,183.42 L552.96,185.57 L553.40,187.65 L553.85,189.62 L554.29,191.48 L554.74,193.21 L555.18,194.79 L555.63,196.22 L556.08,197.48 L556.52,198.57 L556.97,199.47 L557.41,200.19 L557.86,200.72 L558.30,201.05 L558.75,201.19 L559.19,201.13 L559.64,200.87 L560.08,200.43 L560.53,199.80 L560.97,198.98 L561.42,197.99 L561.86,196.83 L562.31,195.50 L562.75,194.03 L563.20,192.41 L563.64,190.67 L564.09,188.82 L564.53,186.87 L564.98,184.84 L565.43,182.75 L565.87,180.62 L566.32,178.47 L566.76,176.32 L567.21,174.20 L567.65,172.13 L568.10,170.13 L568.54,168.23 L568.99,166.44 L569.43,164.79 L569.88,163.30 L570.32,161.98 L570.77,160.85 L571.21,159.93 L571.66,159.22 L572.10,158.72 L572.55,158.45 L572.99,158.40 L573.44,158.57 L573.89,158.95 L574.33,159.53 L574.78,160.30 L575.22,161.25 L575.67,162.36 L576.11,163.60 L576.56,164.97 L577.00,166.44 L577.45,167.98 L577.89,169.58 L578.34,171.22 L578.78,172.87 L579.23,174.52 L579.67,176.14 L580.12,177.72 L580.56,179.24 L581.01,180.69 L581.45,182.04 L581.90,183.30 L582.35,184.44 L582.79,185.46 L583.24,186.36 L583.68,187.11 L584.13,187.72 L584.57,188.19 L585.02,188.51 L585.46,188.67 L585.91,188.69 L586.35,188.56 L586.80,188.27 L587.24,187.84 L587.69,187.27 L588.13,186.56 L588.58,185.72 L589.02,184.75 L589.47,183.67 L589.91,182.48 L590.36,181.20 L590.80,179.83 L591.25,178.39 L591.70,176.90 L592.14,175.36 L592.59,173.80 L593.03,172.22 L593.48,170.66 L593.92,169.12 L594.37,167.62 L594.81,166.19 L595.26,164.83 L595.70,163.57 L596.15,162.42 L596.59,161.39 L597.04,160.50 L597.48,159.75 L597.93,159.17 L598.37,158.74 L598.82,158.48 L599.26,158.39 L599.71,158.47 L600.15,158.71 L600.60,159.11 L601.05,159.66 L601.49,160.35 L601.94,161.17 L602.38,162.11 L602.83,163.14 L603.27,164.27 L603.72,165.46 L604.16,166.71 L604.61,167.99 L605.05,169.29 L605.50,170.60 L605.94,171.89 L606.39,173.15 L606.83,174.37 L607.28,175.53 L607.72,176.62 L608.17,177.64 L608.61,178.56 L609.06,179.38 L609.51,180.10 L609.95,180.70 L610.40,181.19 L610.84,181.55 L611.29,181.79 L611.73,181.90 L612.18,181.89 L612.62,181.75 L613.07,181.49 L613.51,181.10 L613.96,180.61 L614.40,180.00 L614.85,179.28 L615.29,178.47 L615.74,177.58 L616.18,176.60 L616.63,175.56 L617.07,174.46 L617.52,173.31 L617.96,172.13 L618.41,170.93 L618.86,169.72 L619.30,168.51 L619.75,167.32 L620.19,166.17 L620.64,165.05 L621.08,163.99 L621.53,163.00 L621.97,162.08 L622.42,161.25 L622.86,160.52 L623.31,159.88 L623.75,159.36 L624.20,158.94 L624.64,158.64 L625.09,158.46 L625.53,158.39 L625.98,158.44 L626.42,158.59 L626.87,158.86 L627.32,159.22 L627.76,159.68 L628.21,160.22 L628.65,160.85 L629.10,161.53 L629.54,162.28 L629.99,163.07 L630.43,163.90 L630.88,164.75 L631.32,165.62 L631.77,166.49 L632.21,167.36 L632.66,168.20 L633.10,169.03 L633.55,169.82 L633.99,170.56 L634.44,171.26 L634.88,171.89 L635.33,172.47 L635.77,172.97 L636.22,173.41 L636.67,173.76 L637.11,174.04 L637.56,174.23 L638.00,174.34 L638.45,174.37 L638.89,174.31 L639.34,174.16 L639.78,173.94 L640.23,173.63 L640.67,173.25 L641.12,172.80 L641.56,172.27 L642.01,171.68 L642.45,171.04 L642.90,170.34 L643.34,169.60 L643.79,168.82 L644.23,168.02 L644.68,167.19 L645.13,166.36 L645.57,165.52 L646.02,164.69 L646.46,163.88 L646.91,163.09 L647.35,162.34 L647.80,161.64 L648.24,160.98 L648.69,160.39 L649.13,159.87 L649.58,159.41 L650.02,159.04 L650.47,158.75 L650.91,158.54 L651.36,158.42 L651.80,158.39 L652.25,158.45 L652.69,158.59 L653.14,158.82 L653.58,159.13 L654.03,159.51 L654.48,159.96 L654.92,160.47 L655.37,161.04 L655.81,161.66 L656.26,162.32 L656.70,163.00 L657.15,163.71 L657.59,164.42 L658.04,165.14 L658.48,165.86 L658.93,166.56 L659.37,167.23 L659.82,167.88 L660.26,168.48 L660.71,169.04 L661.15,169.55 L661.60,170.00 L662.04,170.39 L662.49,170.72 L662.94,170.97 L663.38,171.16 L663.83,171.27 L664.27,171.30 L664.72,171.27 L665.16,171.16 L665.61,170.98 L666.05,170.74 L666.50,170.43 L666.94,170.06 L667.39,169.64 L667.83,169.16 L668.28,168.64 L668.72,168.07 L669.17,167.48 L669.61,166.85 L670.06,166.20 L670.50,165.53 L670.95,164.86 L671.39,164.19 L671.84,163.52 L672.29,162.87 L672.73,162.25 L673.18,161.64 L673.62,161.08 L674.07,160.55 L674.51,160.08 L674.96,159.65 L675.40,159.28 L675.85,158.97 L676.29,158.73 L676.74,158.55 L677.18,158.43 L677.63,158.39 L678.07,158.41 L678.52,158.50 L678.96,158.66 L679.41,158.87 L679.85,159.14 L680.30,159.47" fill="none" stroke="#ff0000" stroke-width="0.8" stroke-linejoin="round"/>
</g>
<path d="M502.20,157.00 V241.90" fill="none" stroke="#e2e2e2" stroke-width="1.3"/>
<path d="M501.70,241.40 H680.70" fill="none" stroke="#d5d5d5" stroke-width="1"/>
<path d="M502.20,241.40 v-2 M537.82,241.40 v-2 M573.44,241.40 v-2 M609.06,241.40 v-2 M644.68,241.40 v-2 M680.30,241.40 v-2 M502.20,157.00 h2 M502.20,184.79 h2 M502.20,212.57 h2 M502.20,240.36 h2" fill="none" stroke="#d5d5d5" stroke-width="0.8"/>
<g font-family="Liberation Sans, Arial, Helvetica, sans-serif" font-size="7.3" fill="#2a2a2a" stroke="#2a2a2a" stroke-width="0.12">
<text transform="matrix(1 0.001 0 1 502.45 250.50)" text-anchor="middle">0</text>
<text transform="matrix(1 0.001 0 1 538.07 250.50)" text-anchor="middle">2</text>
<text transform="matrix(1 0.001 0 1 573.69 250.50)" text-anchor="middle">4</text>
<text transform="matrix(1 0.001 0 1 609.31 250.50)" text-anchor="middle">6</text>
<text transform="matrix(1 0.001 0 1 644.93 250.50)" text-anchor="middle">8</text>
<text transform="matrix(1 0.001 0 1 680.55 250.50)" text-anchor="middle">10</text>
<text transform="matrix(1 0.001 0 1 500.00 159.60)" text-anchor="end">60</text>
<text transform="matrix(1 0.001 0 1 500.00 187.39)" text-anchor="end">40</text>
<text transform="matrix(1 0.001 0 1 500.00 215.17)" text-anchor="end">20</text>
<text transform="matrix(1 0.001 0 1 500.00 242.96)" text-anchor="end">0</text>
</g>
<text font-family="Liberation Sans, Arial, Helvetica, sans-serif" font-size="8" fill="#2a2a2a" stroke="#2a2a2a" stroke-width="0.1" transform="matrix(1 0.001 0 1 591.85 260.30)" text-anchor="middle">Time [s]</text>
<text font-family="Liberation Sans, Arial, Helvetica, sans-serif" font-size="8" fill="#2a2a2a" stroke="#2a2a2a" stroke-width="0.1" text-anchor="middle" transform="translate(489.60,199.20) rotate(-90)">Position [mm]</text>
<text font-family="Liberation Sans, Arial, Helvetica, sans-serif" font-size="8" font-weight="bold" fill="#0c0c0c" stroke="#0c0c0c" stroke-width="0.12" transform="matrix(1 0.001 0 1 591.25 155.10)" text-anchor="middle">Position in Y axis (RMSE = 0.76 mm)</text>
<text font-family="Liberation Sans, Arial, Helvetica, sans-serif" font-size="15" fill="#0c0c0c" transform="matrix(1.04 0.001 0 1 477.60 145.50)">(F)</text>
</svg>
</body>
</html>
